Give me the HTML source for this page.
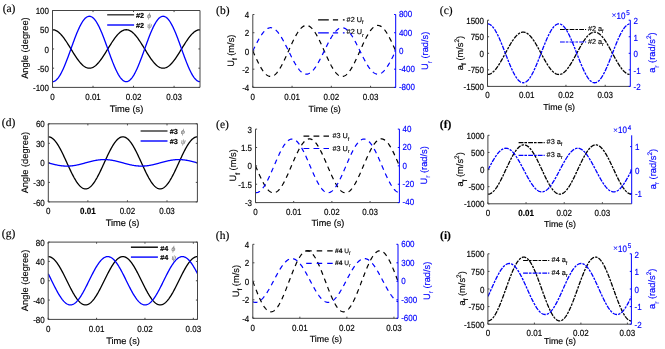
<!DOCTYPE html>
<html><head><meta charset="utf-8"><style>
html,body{margin:0;padding:0;background:#fff;}
svg{display:block;will-change:transform;}
text{font-family:"Liberation Sans", sans-serif;text-rendering:geometricPrecision;stroke:#000;stroke-width:0.15px;}
text[fill="#0000ff"]{stroke:#0000ff;}
tspan[fill="#777"]{stroke:#777;}
</style></head><body>
<svg width="665" height="349" viewBox="0 0 665 349">
<rect width="665" height="349" fill="#fff"/>
<clipPath id="c0"><rect x="52.5" y="9.5" width="147.5" height="77.9"/></clipPath>
<g clip-path="url(#c0)">
<polyline points="52.5,29.73 52.99,29.74 53.48,29.79 53.98,29.88 54.47,29.99 54.96,30.15 55.45,30.33 55.94,30.55 56.43,30.79 56.92,31.08 57.42,31.39 57.91,31.73 58.4,32.1 58.89,32.51 59.38,32.94 59.88,33.4 60.37,33.88 60.86,34.4 61.35,34.94 61.84,35.5 62.33,36.09 62.83,36.7 63.32,37.33 63.81,37.98 64.3,38.65 64.79,39.34 65.28,40.04 65.78,40.76 66.27,41.5 66.76,42.25 67.25,43.01 67.74,43.78 68.23,44.56 68.72,45.35 69.22,46.14 69.71,46.94 70.2,47.74 70.69,48.55 71.18,49.35 71.67,50.16 72.17,50.96 72.66,51.76 73.15,52.55 73.64,53.34 74.13,54.12 74.62,54.89 75.12,55.65 75.61,56.4 76.1,57.14 76.59,57.86 77.08,58.56 77.58,59.25 78.07,59.92 78.56,60.57 79.05,61.2 79.54,61.81 80.03,62.4 80.53,62.96 81.02,63.5 81.51,64.02 82,64.5 82.49,64.96 82.98,65.39 83.47,65.8 83.97,66.17 84.46,66.51 84.95,66.82 85.44,67.11 85.93,67.35 86.43,67.57 86.92,67.75 87.41,67.91 87.9,68.02 88.39,68.11 88.88,68.16 89.38,68.18 89.87,68.16 90.36,68.11 90.85,68.02 91.34,67.91 91.83,67.75 92.33,67.57 92.82,67.35 93.31,67.11 93.8,66.82 94.29,66.51 94.78,66.17 95.28,65.8 95.77,65.39 96.26,64.96 96.75,64.5 97.24,64.02 97.73,63.5 98.22,62.96 98.72,62.4 99.21,61.81 99.7,61.2 100.19,60.57 100.68,59.92 101.17,59.25 101.67,58.56 102.16,57.86 102.65,57.14 103.14,56.4 103.63,55.65 104.12,54.89 104.62,54.12 105.11,53.34 105.6,52.55 106.09,51.76 106.58,50.96 107.08,50.16 107.57,49.35 108.06,48.55 108.55,47.74 109.04,46.94 109.53,46.14 110.03,45.35 110.52,44.56 111.01,43.78 111.5,43.01 111.99,42.25 112.48,41.5 112.97,40.76 113.47,40.04 113.96,39.34 114.45,38.65 114.94,37.98 115.43,37.33 115.93,36.7 116.42,36.09 116.91,35.5 117.4,34.94 117.89,34.4 118.38,33.88 118.88,33.4 119.37,32.94 119.86,32.51 120.35,32.1 120.84,31.73 121.33,31.39 121.83,31.08 122.32,30.79 122.81,30.55 123.3,30.33 123.79,30.15 124.28,29.99 124.78,29.88 125.27,29.79 125.76,29.74 126.25,29.73 126.74,29.74 127.23,29.79 127.72,29.88 128.22,29.99 128.71,30.15 129.2,30.33 129.69,30.55 130.18,30.79 130.68,31.08 131.17,31.39 131.66,31.73 132.15,32.1 132.64,32.51 133.13,32.94 133.62,33.4 134.12,33.88 134.61,34.4 135.1,34.94 135.59,35.5 136.08,36.09 136.57,36.7 137.07,37.33 137.56,37.98 138.05,38.65 138.54,39.34 139.03,40.04 139.52,40.76 140.02,41.5 140.51,42.25 141,43.01 141.49,43.78 141.98,44.56 142.47,45.35 142.97,46.14 143.46,46.94 143.95,47.74 144.44,48.55 144.93,49.35 145.43,50.16 145.92,50.96 146.41,51.76 146.9,52.55 147.39,53.34 147.88,54.12 148.38,54.89 148.87,55.65 149.36,56.4 149.85,57.14 150.34,57.86 150.83,58.56 151.32,59.25 151.82,59.92 152.31,60.57 152.8,61.2 153.29,61.81 153.78,62.4 154.28,62.96 154.77,63.5 155.26,64.02 155.75,64.5 156.24,64.96 156.73,65.39 157.23,65.8 157.72,66.17 158.21,66.51 158.7,66.82 159.19,67.11 159.68,67.35 160.18,67.57 160.67,67.75 161.16,67.91 161.65,68.02 162.14,68.11 162.63,68.16 163.12,68.18 163.62,68.16 164.11,68.11 164.6,68.02 165.09,67.91 165.58,67.75 166.07,67.57 166.57,67.35 167.06,67.11 167.55,66.82 168.04,66.51 168.53,66.17 169.03,65.8 169.52,65.39 170.01,64.96 170.5,64.5 170.99,64.02 171.48,63.5 171.97,62.96 172.47,62.4 172.96,61.81 173.45,61.2 173.94,60.57 174.43,59.92 174.93,59.25 175.42,58.56 175.91,57.86 176.4,57.14 176.89,56.4 177.38,55.65 177.88,54.89 178.37,54.12 178.86,53.34 179.35,52.55 179.84,51.76 180.33,50.96 180.82,50.16 181.32,49.35 181.81,48.55 182.3,47.74 182.79,46.94 183.28,46.14 183.78,45.35 184.27,44.56 184.76,43.78 185.25,43.01 185.74,42.25 186.23,41.5 186.72,40.76 187.22,40.04 187.71,39.34 188.2,38.65 188.69,37.98 189.18,37.33 189.67,36.7 190.17,36.09 190.66,35.5 191.15,34.94 191.64,34.4 192.13,33.88 192.62,33.4 193.12,32.94 193.61,32.51 194.1,32.1 194.59,31.73 195.08,31.39 195.58,31.08 196.07,30.79 196.56,30.55 197.05,30.33 197.54,30.15 198.03,29.99 198.52,29.88 199.02,29.79 199.51,29.74 200,29.73" fill="none" stroke="#000" stroke-width="1.3" stroke-linejoin="round"/>
<polyline points="52.5,81.63 52.99,81.6 53.48,81.52 53.98,81.37 54.47,81.17 54.96,80.92 55.45,80.61 55.94,80.24 56.43,79.81 56.92,79.34 57.42,78.81 57.91,78.22 58.4,77.59 58.89,76.91 59.38,76.17 59.88,75.39 60.37,74.56 60.86,73.69 61.35,72.77 61.84,71.82 62.33,70.82 62.83,69.78 63.32,68.71 63.81,67.6 64.3,66.46 64.79,65.29 65.28,64.09 65.78,62.87 66.27,61.61 66.76,60.34 67.25,59.05 67.74,57.74 68.23,56.41 68.72,55.07 69.22,53.72 69.71,52.37 70.2,51 70.69,49.63 71.18,48.27 71.67,46.9 72.17,45.53 72.66,44.18 73.15,42.83 73.64,41.49 74.13,40.16 74.62,38.85 75.12,37.56 75.61,36.29 76.1,35.03 76.59,33.81 77.08,32.61 77.58,31.44 78.07,30.3 78.56,29.19 79.05,28.12 79.54,27.08 80.03,26.08 80.53,25.13 81.02,24.21 81.51,23.34 82,22.51 82.49,21.73 82.98,20.99 83.47,20.31 83.97,19.68 84.46,19.09 84.95,18.56 85.44,18.09 85.93,17.66 86.43,17.29 86.92,16.98 87.41,16.73 87.9,16.53 88.39,16.38 88.88,16.3 89.38,16.27 89.87,16.3 90.36,16.38 90.85,16.53 91.34,16.73 91.83,16.98 92.33,17.29 92.82,17.66 93.31,18.09 93.8,18.56 94.29,19.09 94.78,19.68 95.28,20.31 95.77,20.99 96.26,21.73 96.75,22.51 97.24,23.34 97.73,24.21 98.22,25.13 98.72,26.08 99.21,27.08 99.7,28.12 100.19,29.19 100.68,30.3 101.17,31.44 101.67,32.61 102.16,33.81 102.65,35.03 103.14,36.29 103.63,37.56 104.12,38.85 104.62,40.16 105.11,41.49 105.6,42.83 106.09,44.18 106.58,45.53 107.08,46.9 107.57,48.27 108.06,49.63 108.55,51 109.04,52.37 109.53,53.72 110.03,55.07 110.52,56.41 111.01,57.74 111.5,59.05 111.99,60.34 112.48,61.61 112.97,62.87 113.47,64.09 113.96,65.29 114.45,66.46 114.94,67.6 115.43,68.71 115.93,69.78 116.42,70.82 116.91,71.82 117.4,72.77 117.89,73.69 118.38,74.56 118.88,75.39 119.37,76.17 119.86,76.91 120.35,77.59 120.84,78.22 121.33,78.81 121.83,79.34 122.32,79.81 122.81,80.24 123.3,80.61 123.79,80.92 124.28,81.17 124.78,81.37 125.27,81.52 125.76,81.6 126.25,81.63 126.74,81.6 127.23,81.52 127.72,81.37 128.22,81.17 128.71,80.92 129.2,80.61 129.69,80.24 130.18,79.81 130.68,79.34 131.17,78.81 131.66,78.22 132.15,77.59 132.64,76.91 133.13,76.17 133.62,75.39 134.12,74.56 134.61,73.69 135.1,72.77 135.59,71.82 136.08,70.82 136.57,69.78 137.07,68.71 137.56,67.6 138.05,66.46 138.54,65.29 139.03,64.09 139.52,62.87 140.02,61.61 140.51,60.34 141,59.05 141.49,57.74 141.98,56.41 142.47,55.07 142.97,53.72 143.46,52.37 143.95,51 144.44,49.63 144.93,48.27 145.43,46.9 145.92,45.53 146.41,44.18 146.9,42.83 147.39,41.49 147.88,40.16 148.38,38.85 148.87,37.56 149.36,36.29 149.85,35.03 150.34,33.81 150.83,32.61 151.32,31.44 151.82,30.3 152.31,29.19 152.8,28.12 153.29,27.08 153.78,26.08 154.28,25.13 154.77,24.21 155.26,23.34 155.75,22.51 156.24,21.73 156.73,20.99 157.23,20.31 157.72,19.68 158.21,19.09 158.7,18.56 159.19,18.09 159.68,17.66 160.18,17.29 160.67,16.98 161.16,16.73 161.65,16.53 162.14,16.38 162.63,16.3 163.12,16.27 163.62,16.3 164.11,16.38 164.6,16.53 165.09,16.73 165.58,16.98 166.07,17.29 166.57,17.66 167.06,18.09 167.55,18.56 168.04,19.09 168.53,19.68 169.03,20.31 169.52,20.99 170.01,21.73 170.5,22.51 170.99,23.34 171.48,24.21 171.97,25.13 172.47,26.08 172.96,27.08 173.45,28.12 173.94,29.19 174.43,30.3 174.93,31.44 175.42,32.61 175.91,33.81 176.4,35.03 176.89,36.29 177.38,37.56 177.88,38.85 178.37,40.16 178.86,41.49 179.35,42.83 179.84,44.18 180.33,45.53 180.82,46.9 181.32,48.27 181.81,49.63 182.3,51 182.79,52.37 183.28,53.72 183.78,55.07 184.27,56.41 184.76,57.74 185.25,59.05 185.74,60.34 186.23,61.61 186.72,62.87 187.22,64.09 187.71,65.29 188.2,66.46 188.69,67.6 189.18,68.71 189.67,69.78 190.17,70.82 190.66,71.82 191.15,72.77 191.64,73.69 192.13,74.56 192.62,75.39 193.12,76.17 193.61,76.91 194.1,77.59 194.59,78.22 195.08,78.81 195.58,79.34 196.07,79.81 196.56,80.24 197.05,80.61 197.54,80.92 198.03,81.17 198.52,81.37 199.02,81.52 199.51,81.6 200,81.63" fill="none" stroke="#0000ff" stroke-width="1.3" stroke-linejoin="round"/>
</g>
<line x1="52.5" y1="10.5" x2="52.5" y2="87.4" stroke="#444" stroke-width="1.0"/>
<line x1="52.5" y1="87.4" x2="200" y2="87.4" stroke="#444" stroke-width="1.0"/>
<line x1="200" y1="10.5" x2="200" y2="87.4" stroke="#444" stroke-width="1.0"/>
<line x1="52.5" y1="10.5" x2="200" y2="10.5" stroke="#444" stroke-width="1.0"/>
<line x1="52.5" y1="10.5" x2="54.1" y2="10.5" stroke="#444" stroke-width="1.0"/>
<line x1="200" y1="10.5" x2="198.4" y2="10.5" stroke="#444" stroke-width="1.0"/>
<text transform="translate(49,14.11) scale(1,1.1)" font-size="8" text-anchor="end">100</text>
<line x1="52.5" y1="29.73" x2="54.1" y2="29.73" stroke="#444" stroke-width="1.0"/>
<line x1="200" y1="29.73" x2="198.4" y2="29.73" stroke="#444" stroke-width="1.0"/>
<text transform="translate(49,33.33) scale(1,1.1)" font-size="8" text-anchor="end">50</text>
<line x1="52.5" y1="48.95" x2="54.1" y2="48.95" stroke="#444" stroke-width="1.0"/>
<line x1="200" y1="48.95" x2="198.4" y2="48.95" stroke="#444" stroke-width="1.0"/>
<text transform="translate(49,52.56) scale(1,1.1)" font-size="8" text-anchor="end">0</text>
<line x1="52.5" y1="68.18" x2="54.1" y2="68.18" stroke="#444" stroke-width="1.0"/>
<line x1="200" y1="68.18" x2="198.4" y2="68.18" stroke="#444" stroke-width="1.0"/>
<text transform="translate(49,71.78) scale(1,1.1)" font-size="8" text-anchor="end">-50</text>
<line x1="52.5" y1="87.4" x2="54.1" y2="87.4" stroke="#444" stroke-width="1.0"/>
<line x1="200" y1="87.4" x2="198.4" y2="87.4" stroke="#444" stroke-width="1.0"/>
<text transform="translate(49,91.01) scale(1,1.1)" font-size="8" text-anchor="end">-100</text>
<line x1="52.5" y1="87.4" x2="52.5" y2="85.8" stroke="#444" stroke-width="1.0"/>
<line x1="52.5" y1="10.5" x2="52.5" y2="12.1" stroke="#444" stroke-width="1.0"/>
<text transform="translate(52.5,99.5) scale(1,1.1)" font-size="8" text-anchor="middle">0</text>
<line x1="93.02" y1="87.4" x2="93.02" y2="85.8" stroke="#444" stroke-width="1.0"/>
<line x1="93.02" y1="10.5" x2="93.02" y2="12.1" stroke="#444" stroke-width="1.0"/>
<text transform="translate(93.02,99.5) scale(1,1.1)" font-size="8" text-anchor="middle">0.01</text>
<line x1="133.54" y1="87.4" x2="133.54" y2="85.8" stroke="#444" stroke-width="1.0"/>
<line x1="133.54" y1="10.5" x2="133.54" y2="12.1" stroke="#444" stroke-width="1.0"/>
<text transform="translate(133.54,99.5) scale(1,1.1)" font-size="8" text-anchor="middle">0.02</text>
<line x1="174.07" y1="87.4" x2="174.07" y2="85.8" stroke="#444" stroke-width="1.0"/>
<line x1="174.07" y1="10.5" x2="174.07" y2="12.1" stroke="#444" stroke-width="1.0"/>
<text transform="translate(174.07,99.5) scale(1,1.1)" font-size="8" text-anchor="middle">0.03</text>
<text x="126.5" y="111.9" font-size="9.3" text-anchor="middle">Time (s)</text>
<text transform="translate(28.4,48.1) rotate(-90)" text-anchor="middle" font-size="9.3">Angle (degree)</text>
<line x1="107.2" y1="14.8" x2="134.1" y2="14.8" stroke="#333" stroke-width="1.4"/>
<text x="135.9" y="17.9" font-size="7.3"><tspan font-weight="bold">#2</tspan> <tspan dx="1.2" font-style="italic" fill="#777" style="font-family:&quot;Liberation Serif&quot;, serif">ϕ</tspan></text>
<line x1="107.2" y1="25" x2="134.1" y2="25" stroke="#0000ff" stroke-width="1.4"/>
<text x="135.9" y="27.9" font-size="7.3"><tspan font-weight="bold">#2</tspan> <tspan dx="1.2" font-style="italic" fill="#777" style="font-family:&quot;Liberation Serif&quot;, serif">ψ</tspan></text>
<text x="2.7" y="11.9" style="font-family:&quot;Liberation Serif&quot;, serif" font-size="11.5">(a)</text>
<clipPath id="c43"><rect x="252.8" y="13.5" width="142.9" height="73.9"/></clipPath>
<g clip-path="url(#c43)">
<polyline points="252.8,50.95 253.28,52.02 253.75,53.09 254.23,54.15 254.71,55.21 255.18,56.25 255.66,57.3 256.13,58.32 256.61,59.34 257.09,60.34 257.56,61.33 258.04,62.29 258.52,63.24 258.99,64.17 259.47,65.07 259.94,65.95 260.42,66.8 260.9,67.62 261.37,68.42 261.85,69.18 262.33,69.91 262.8,70.61 263.28,71.27 263.76,71.9 264.23,72.49 264.71,73.05 265.18,73.56 265.66,74.04 266.14,74.47 266.61,74.86 267.09,75.22 267.57,75.53 268.04,75.79 268.52,76.01 269,76.19 269.47,76.33 269.95,76.41 270.42,76.46 270.9,76.46 271.38,76.41 271.85,76.33 272.33,76.19 272.81,76.01 273.28,75.79 273.76,75.53 274.24,75.22 274.71,74.86 275.19,74.47 275.66,74.04 276.14,73.56 276.62,73.05 277.09,72.49 277.57,71.9 278.05,71.27 278.52,70.61 279,69.91 279.47,69.18 279.95,68.42 280.43,67.62 280.9,66.8 281.38,65.95 281.86,65.07 282.33,64.17 282.81,63.24 283.29,62.29 283.76,61.33 284.24,60.34 284.71,59.34 285.19,58.32 285.67,57.3 286.14,56.25 286.62,55.21 287.1,54.15 287.57,53.09 288.05,52.02 288.52,50.95 289,49.88 289.48,48.81 289.95,47.75 290.43,46.69 290.91,45.65 291.38,44.6 291.86,43.58 292.34,42.56 292.81,41.56 293.29,40.57 293.76,39.61 294.24,38.66 294.72,37.73 295.19,36.83 295.67,35.95 296.15,35.1 296.62,34.28 297.1,33.48 297.58,32.72 298.05,31.99 298.53,31.29 299,30.63 299.48,30 299.96,29.41 300.43,28.85 300.91,28.34 301.39,27.86 301.86,27.43 302.34,27.04 302.81,26.68 303.29,26.37 303.77,26.11 304.24,25.89 304.72,25.71 305.2,25.57 305.67,25.49 306.15,25.44 306.63,25.44 307.1,25.49 307.58,25.57 308.05,25.71 308.53,25.89 309.01,26.11 309.48,26.37 309.96,26.68 310.44,27.04 310.91,27.43 311.39,27.86 311.87,28.34 312.34,28.85 312.82,29.41 313.29,30 313.77,30.63 314.25,31.29 314.72,31.99 315.2,32.72 315.68,33.48 316.15,34.28 316.63,35.1 317.11,35.95 317.58,36.83 318.06,37.73 318.53,38.66 319.01,39.61 319.49,40.57 319.96,41.56 320.44,42.56 320.92,43.58 321.39,44.6 321.87,45.65 322.34,46.69 322.82,47.75 323.3,48.81 323.77,49.88 324.25,50.95 324.73,52.02 325.2,53.09 325.68,54.15 326.16,55.21 326.63,56.25 327.11,57.3 327.58,58.32 328.06,59.34 328.54,60.34 329.01,61.33 329.49,62.29 329.97,63.24 330.44,64.17 330.92,65.07 331.39,65.95 331.87,66.8 332.35,67.62 332.82,68.42 333.3,69.18 333.78,69.91 334.25,70.61 334.73,71.27 335.21,71.9 335.68,72.49 336.16,73.05 336.63,73.56 337.11,74.04 337.59,74.47 338.06,74.86 338.54,75.22 339.02,75.53 339.49,75.79 339.97,76.01 340.45,76.19 340.92,76.33 341.4,76.41 341.87,76.46 342.35,76.46 342.83,76.41 343.3,76.33 343.78,76.19 344.26,76.01 344.73,75.79 345.21,75.53 345.69,75.22 346.16,74.86 346.64,74.47 347.11,74.04 347.59,73.56 348.07,73.05 348.54,72.49 349.02,71.9 349.5,71.27 349.97,70.61 350.45,69.91 350.92,69.18 351.4,68.42 351.88,67.62 352.35,66.8 352.83,65.95 353.31,65.07 353.78,64.17 354.26,63.24 354.74,62.29 355.21,61.33 355.69,60.34 356.16,59.34 356.64,58.32 357.12,57.3 357.59,56.25 358.07,55.21 358.55,54.15 359.02,53.09 359.5,52.02 359.98,50.95 360.45,49.88 360.93,48.81 361.4,47.75 361.88,46.69 362.36,45.65 362.83,44.6 363.31,43.58 363.79,42.56 364.26,41.56 364.74,40.57 365.21,39.61 365.69,38.66 366.17,37.73 366.64,36.83 367.12,35.95 367.6,35.1 368.07,34.28 368.55,33.48 369.03,32.72 369.5,31.99 369.98,31.29 370.45,30.63 370.93,30 371.41,29.41 371.88,28.85 372.36,28.34 372.84,27.86 373.31,27.43 373.79,27.04 374.26,26.68 374.74,26.37 375.22,26.11 375.69,25.89 376.17,25.71 376.65,25.57 377.12,25.49 377.6,25.44 378.08,25.44 378.55,25.49 379.03,25.57 379.5,25.71 379.98,25.89 380.46,26.11 380.93,26.37 381.41,26.68 381.89,27.04 382.36,27.43 382.84,27.86 383.32,28.34 383.79,28.85 384.27,29.41 384.74,30 385.22,30.63 385.7,31.29 386.17,31.99 386.65,32.72 387.13,33.48 387.6,34.28 388.08,35.1 388.55,35.95 389.03,36.83 389.51,37.73 389.98,38.66 390.46,39.61 390.94,40.57 391.41,41.56 391.89,42.56 392.37,43.58 392.84,44.6 393.32,45.65 393.79,46.69 394.27,47.75 394.75,48.81 395.22,49.88 395.7,50.95" fill="none" stroke="#000" stroke-width="1.2" stroke-dasharray="4.8,4.2" stroke-linejoin="round"/>
<polyline points="252.8,50.95 253.28,49.98 253.75,49.01 254.23,48.04 254.71,47.07 255.18,46.12 255.66,45.17 256.13,44.23 256.61,43.31 257.09,42.4 257.56,41.5 258.04,40.62 258.52,39.76 258.99,38.91 259.47,38.09 259.94,37.29 260.42,36.52 260.9,35.77 261.37,35.04 261.85,34.35 262.33,33.68 262.8,33.05 263.28,32.44 263.76,31.87 264.23,31.33 264.71,30.83 265.18,30.36 265.66,29.92 266.14,29.53 266.61,29.17 267.09,28.85 267.57,28.57 268.04,28.33 268.52,28.12 269,27.96 269.47,27.84 269.95,27.76 270.42,27.72 270.9,27.72 271.38,27.76 271.85,27.84 272.33,27.96 272.81,28.12 273.28,28.33 273.76,28.57 274.24,28.85 274.71,29.17 275.19,29.53 275.66,29.92 276.14,30.36 276.62,30.83 277.09,31.33 277.57,31.87 278.05,32.44 278.52,33.05 279,33.68 279.47,34.35 279.95,35.04 280.43,35.77 280.9,36.52 281.38,37.29 281.86,38.09 282.33,38.91 282.81,39.76 283.29,40.62 283.76,41.5 284.24,42.4 284.71,43.31 285.19,44.23 285.67,45.17 286.14,46.12 286.62,47.07 287.1,48.04 287.57,49.01 288.05,49.98 288.52,50.95 289,51.92 289.48,52.89 289.95,53.86 290.43,54.83 290.91,55.78 291.38,56.73 291.86,57.67 292.34,58.59 292.81,59.5 293.29,60.4 293.76,61.28 294.24,62.14 294.72,62.99 295.19,63.81 295.67,64.61 296.15,65.38 296.62,66.13 297.1,66.86 297.58,67.55 298.05,68.22 298.53,68.85 299,69.46 299.48,70.03 299.96,70.57 300.43,71.07 300.91,71.54 301.39,71.98 301.86,72.37 302.34,72.73 302.81,73.05 303.29,73.33 303.77,73.57 304.24,73.78 304.72,73.94 305.2,74.06 305.67,74.14 306.15,74.18 306.63,74.18 307.1,74.14 307.58,74.06 308.05,73.94 308.53,73.78 309.01,73.57 309.48,73.33 309.96,73.05 310.44,72.73 310.91,72.37 311.39,71.98 311.87,71.54 312.34,71.07 312.82,70.57 313.29,70.03 313.77,69.46 314.25,68.85 314.72,68.22 315.2,67.55 315.68,66.86 316.15,66.13 316.63,65.38 317.11,64.61 317.58,63.81 318.06,62.99 318.53,62.14 319.01,61.28 319.49,60.4 319.96,59.5 320.44,58.59 320.92,57.67 321.39,56.73 321.87,55.78 322.34,54.83 322.82,53.86 323.3,52.89 323.77,51.92 324.25,50.95 324.73,49.98 325.2,49.01 325.68,48.04 326.16,47.07 326.63,46.12 327.11,45.17 327.58,44.23 328.06,43.31 328.54,42.4 329.01,41.5 329.49,40.62 329.97,39.76 330.44,38.91 330.92,38.09 331.39,37.29 331.87,36.52 332.35,35.77 332.82,35.04 333.3,34.35 333.78,33.68 334.25,33.05 334.73,32.44 335.21,31.87 335.68,31.33 336.16,30.83 336.63,30.36 337.11,29.92 337.59,29.53 338.06,29.17 338.54,28.85 339.02,28.57 339.49,28.33 339.97,28.12 340.45,27.96 340.92,27.84 341.4,27.76 341.87,27.72 342.35,27.72 342.83,27.76 343.3,27.84 343.78,27.96 344.26,28.12 344.73,28.33 345.21,28.57 345.69,28.85 346.16,29.17 346.64,29.53 347.11,29.92 347.59,30.36 348.07,30.83 348.54,31.33 349.02,31.87 349.5,32.44 349.97,33.05 350.45,33.68 350.92,34.35 351.4,35.04 351.88,35.77 352.35,36.52 352.83,37.29 353.31,38.09 353.78,38.91 354.26,39.76 354.74,40.62 355.21,41.5 355.69,42.4 356.16,43.31 356.64,44.23 357.12,45.17 357.59,46.12 358.07,47.07 358.55,48.04 359.02,49.01 359.5,49.98 359.98,50.95 360.45,51.92 360.93,52.89 361.4,53.86 361.88,54.83 362.36,55.78 362.83,56.73 363.31,57.67 363.79,58.59 364.26,59.5 364.74,60.4 365.21,61.28 365.69,62.14 366.17,62.99 366.64,63.81 367.12,64.61 367.6,65.38 368.07,66.13 368.55,66.86 369.03,67.55 369.5,68.22 369.98,68.85 370.45,69.46 370.93,70.03 371.41,70.57 371.88,71.07 372.36,71.54 372.84,71.98 373.31,72.37 373.79,72.73 374.26,73.05 374.74,73.33 375.22,73.57 375.69,73.78 376.17,73.94 376.65,74.06 377.12,74.14 377.6,74.18 378.08,74.18 378.55,74.14 379.03,74.06 379.5,73.94 379.98,73.78 380.46,73.57 380.93,73.33 381.41,73.05 381.89,72.73 382.36,72.37 382.84,71.98 383.32,71.54 383.79,71.07 384.27,70.57 384.74,70.03 385.22,69.46 385.7,68.85 386.17,68.22 386.65,67.55 387.13,66.86 387.6,66.13 388.08,65.38 388.55,64.61 389.03,63.81 389.51,62.99 389.98,62.14 390.46,61.28 390.94,60.4 391.41,59.5 391.89,58.59 392.37,57.67 392.84,56.73 393.32,55.78 393.79,54.83 394.27,53.86 394.75,52.89 395.22,51.92 395.7,50.95" fill="none" stroke="#0000ff" stroke-width="1.2" stroke-dasharray="4.8,4.2" stroke-linejoin="round"/>
</g>
<line x1="252.8" y1="14.5" x2="252.8" y2="87.4" stroke="#444" stroke-width="1.0"/>
<line x1="252.8" y1="87.4" x2="395.7" y2="87.4" stroke="#444" stroke-width="1.0"/>
<line x1="395.7" y1="14.5" x2="395.7" y2="87.4" stroke="#0000ff" stroke-width="1.0"/>
<line x1="252.8" y1="14.5" x2="254.4" y2="14.5" stroke="#444" stroke-width="1.0"/>
<text transform="translate(249.3,18.11) scale(1,1.1)" font-size="8" text-anchor="end">4</text>
<line x1="252.8" y1="32.73" x2="254.4" y2="32.73" stroke="#444" stroke-width="1.0"/>
<text transform="translate(249.3,36.33) scale(1,1.1)" font-size="8" text-anchor="end">2</text>
<line x1="252.8" y1="50.95" x2="254.4" y2="50.95" stroke="#444" stroke-width="1.0"/>
<text transform="translate(249.3,54.56) scale(1,1.1)" font-size="8" text-anchor="end">0</text>
<line x1="252.8" y1="69.18" x2="254.4" y2="69.18" stroke="#444" stroke-width="1.0"/>
<text transform="translate(249.3,72.78) scale(1,1.1)" font-size="8" text-anchor="end">-2</text>
<line x1="252.8" y1="87.4" x2="254.4" y2="87.4" stroke="#444" stroke-width="1.0"/>
<text transform="translate(249.3,91.01) scale(1,1.1)" font-size="8" text-anchor="end">-4</text>
<line x1="395.7" y1="14.5" x2="394.1" y2="14.5" stroke="#0000ff" stroke-width="1.0"/>
<text transform="translate(398.9,17.31) scale(1,1.1)" font-size="8" fill="#0000ff">800</text>
<line x1="395.7" y1="32.73" x2="394.1" y2="32.73" stroke="#0000ff" stroke-width="1.0"/>
<text transform="translate(398.9,35.53) scale(1,1.1)" font-size="8" fill="#0000ff">400</text>
<line x1="395.7" y1="50.95" x2="394.1" y2="50.95" stroke="#0000ff" stroke-width="1.0"/>
<text transform="translate(398.9,53.76) scale(1,1.1)" font-size="8" fill="#0000ff">0</text>
<line x1="395.7" y1="69.18" x2="394.1" y2="69.18" stroke="#0000ff" stroke-width="1.0"/>
<text transform="translate(398.9,71.98) scale(1,1.1)" font-size="8" fill="#0000ff">-400</text>
<line x1="395.7" y1="87.4" x2="394.1" y2="87.4" stroke="#0000ff" stroke-width="1.0"/>
<text transform="translate(398.9,90.21) scale(1,1.1)" font-size="8" fill="#0000ff">-800</text>
<line x1="252.8" y1="87.4" x2="252.8" y2="85.8" stroke="#444" stroke-width="1.0"/>
<text transform="translate(252.8,100) scale(1,1.1)" font-size="8" text-anchor="middle">0</text>
<line x1="292.06" y1="87.4" x2="292.06" y2="85.8" stroke="#444" stroke-width="1.0"/>
<text transform="translate(292.06,100) scale(1,1.1)" font-size="8" text-anchor="middle">0.01</text>
<line x1="331.32" y1="87.4" x2="331.32" y2="85.8" stroke="#444" stroke-width="1.0"/>
<text transform="translate(331.32,100) scale(1,1.1)" font-size="8" text-anchor="middle">0.02</text>
<line x1="370.57" y1="87.4" x2="370.57" y2="85.8" stroke="#444" stroke-width="1.0"/>
<text transform="translate(370.57,100) scale(1,1.1)" font-size="8" text-anchor="middle">0.03</text>
<text x="324.7" y="111.7" font-size="8.9" text-anchor="middle">Time (s)</text>
<text transform="translate(233.7,50.7) rotate(-90)" text-anchor="middle" font-size="9.3">U<tspan font-size="70%" dy="3.5">f</tspan><tspan dy="-3.5"> (m/s)</tspan></text>
<text transform="translate(428.2,50.8) rotate(-90)" text-anchor="middle" font-size="9.3" fill="#0000ff">U<tspan font-size="70%" dy="3.5">r</tspan><tspan dy="-3.5"> (rad/s)</tspan></text>
<line x1="318.1" y1="19.9" x2="344.7" y2="19.9" stroke="#000" stroke-width="1.2" stroke-dasharray="10.7,4.1,5.2,4.8,1.7,20"/>
<text x="346.6" y="21.5" font-size="7.3">#2 U<tspan font-size="72%" dy="2.4">f</tspan></text>
<line x1="318.1" y1="32.8" x2="344.7" y2="32.8" stroke="#0000ff" stroke-width="1.2" stroke-dasharray="10.7,4.1,5.2,4.8,1.7,20"/>
<text x="346.6" y="34.1" font-size="7.3">#2 U<tspan font-size="72%" dy="2.4">r</tspan></text>
<text x="216.1" y="13.7" style="font-family:&quot;Liberation Serif&quot;, serif" font-size="11.5">(b)</text>
<clipPath id="c87"><rect x="487.5" y="19.2" width="142.8" height="67.2"/></clipPath>
<g clip-path="url(#c87)">
<polyline points="487.5,74.48 487.98,74.47 488.45,74.41 488.93,74.32 489.4,74.19 489.88,74.02 490.36,73.82 490.83,73.58 491.31,73.31 491.78,73 492.26,72.65 492.74,72.27 493.21,71.86 493.69,71.42 494.16,70.94 494.64,70.44 495.12,69.9 495.59,69.34 496.07,68.74 496.54,68.12 497.02,67.47 497.5,66.8 497.97,66.11 498.45,65.39 498.92,64.65 499.4,63.89 499.88,63.11 500.35,62.32 500.83,61.51 501.3,60.68 501.78,59.85 502.26,59 502.73,58.14 503.21,57.27 503.68,56.39 504.16,55.51 504.64,54.63 505.11,53.74 505.59,52.86 506.06,51.97 506.54,51.09 507.02,50.21 507.49,49.33 507.97,48.46 508.44,47.6 508.92,46.75 509.4,45.92 509.87,45.09 510.35,44.28 510.82,43.49 511.3,42.71 511.78,41.95 512.25,41.21 512.73,40.49 513.2,39.8 513.68,39.13 514.16,38.48 514.63,37.86 515.11,37.26 515.58,36.7 516.06,36.16 516.54,35.66 517.01,35.18 517.49,34.74 517.96,34.33 518.44,33.95 518.92,33.6 519.39,33.29 519.87,33.02 520.34,32.78 520.82,32.58 521.3,32.41 521.77,32.28 522.25,32.19 522.72,32.13 523.2,32.12 523.68,32.13 524.15,32.19 524.63,32.28 525.1,32.41 525.58,32.58 526.06,32.78 526.53,33.02 527.01,33.29 527.48,33.6 527.96,33.95 528.44,34.33 528.91,34.74 529.39,35.18 529.86,35.66 530.34,36.16 530.82,36.7 531.29,37.26 531.77,37.86 532.24,38.48 532.72,39.13 533.2,39.8 533.67,40.49 534.15,41.21 534.62,41.95 535.1,42.71 535.58,43.49 536.05,44.28 536.53,45.09 537,45.92 537.48,46.75 537.96,47.6 538.43,48.46 538.91,49.33 539.38,50.21 539.86,51.09 540.34,51.97 540.81,52.86 541.29,53.74 541.76,54.63 542.24,55.51 542.72,56.39 543.19,57.27 543.67,58.14 544.14,59 544.62,59.85 545.1,60.68 545.57,61.51 546.05,62.32 546.52,63.11 547,63.89 547.48,64.65 547.95,65.39 548.43,66.11 548.9,66.8 549.38,67.47 549.86,68.12 550.33,68.74 550.81,69.34 551.28,69.9 551.76,70.44 552.24,70.94 552.71,71.42 553.19,71.86 553.66,72.27 554.14,72.65 554.62,73 555.09,73.31 555.57,73.58 556.04,73.82 556.52,74.02 557,74.19 557.47,74.32 557.95,74.41 558.42,74.47 558.9,74.48 559.38,74.47 559.85,74.41 560.33,74.32 560.8,74.19 561.28,74.02 561.76,73.82 562.23,73.58 562.71,73.31 563.18,73 563.66,72.65 564.14,72.27 564.61,71.86 565.09,71.42 565.56,70.94 566.04,70.44 566.52,69.9 566.99,69.34 567.47,68.74 567.94,68.12 568.42,67.47 568.9,66.8 569.37,66.11 569.85,65.39 570.32,64.65 570.8,63.89 571.28,63.11 571.75,62.32 572.23,61.51 572.7,60.68 573.18,59.85 573.66,59 574.13,58.14 574.61,57.27 575.08,56.39 575.56,55.51 576.04,54.63 576.51,53.74 576.99,52.86 577.46,51.97 577.94,51.09 578.42,50.21 578.89,49.33 579.37,48.46 579.84,47.6 580.32,46.75 580.8,45.92 581.27,45.09 581.75,44.28 582.22,43.49 582.7,42.71 583.18,41.95 583.65,41.21 584.13,40.49 584.6,39.8 585.08,39.13 585.56,38.48 586.03,37.86 586.51,37.26 586.98,36.7 587.46,36.16 587.94,35.66 588.41,35.18 588.89,34.74 589.36,34.33 589.84,33.95 590.32,33.6 590.79,33.29 591.27,33.02 591.74,32.78 592.22,32.58 592.7,32.41 593.17,32.28 593.65,32.19 594.12,32.13 594.6,32.12 595.08,32.13 595.55,32.19 596.03,32.28 596.5,32.41 596.98,32.58 597.46,32.78 597.93,33.02 598.41,33.29 598.88,33.6 599.36,33.95 599.84,34.33 600.31,34.74 600.79,35.18 601.26,35.66 601.74,36.16 602.22,36.7 602.69,37.26 603.17,37.86 603.64,38.48 604.12,39.13 604.6,39.8 605.07,40.49 605.55,41.21 606.02,41.95 606.5,42.71 606.98,43.49 607.45,44.28 607.93,45.09 608.4,45.92 608.88,46.75 609.36,47.6 609.83,48.46 610.31,49.33 610.78,50.21 611.26,51.09 611.74,51.97 612.21,52.86 612.69,53.74 613.16,54.63 613.64,55.51 614.12,56.39 614.59,57.27 615.07,58.14 615.54,59 616.02,59.85 616.5,60.68 616.97,61.51 617.45,62.32 617.92,63.11 618.4,63.89 618.88,64.65 619.35,65.39 619.83,66.11 620.3,66.8 620.78,67.47 621.26,68.12 621.73,68.74 622.21,69.34 622.68,69.9 623.16,70.44 623.64,70.94 624.11,71.42 624.59,71.86 625.06,72.27 625.54,72.65 626.02,73 626.49,73.31 626.97,73.58 627.44,73.82 627.92,74.02 628.4,74.19 628.87,74.32 629.35,74.41 629.82,74.47 630.3,74.48" fill="none" stroke="#000" stroke-width="1.3" stroke-dasharray="4.6,1.1,2.4,1.1" stroke-linejoin="round"/>
<polyline points="487.5,23.84 487.98,23.87 488.45,23.94 488.93,24.07 489.4,24.25 489.88,24.48 490.36,24.77 490.83,25.1 491.31,25.48 491.78,25.91 492.26,26.39 492.74,26.91 493.21,27.48 493.69,28.1 494.16,28.76 494.64,29.47 495.12,30.21 495.59,31 496.07,31.83 496.54,32.69 497.02,33.59 497.5,34.52 497.97,35.49 498.45,36.49 498.92,37.52 499.4,38.57 499.88,39.65 500.35,40.76 500.83,41.88 501.3,43.03 501.78,44.2 502.26,45.38 502.73,46.57 503.21,47.78 503.68,49 504.16,50.22 504.64,51.45 505.11,52.68 505.59,53.92 506.06,55.15 506.54,56.38 507.02,57.6 507.49,58.82 507.97,60.03 508.44,61.22 508.92,62.4 509.4,63.57 509.87,64.72 510.35,65.84 510.82,66.95 511.3,68.03 511.78,69.08 512.25,70.11 512.73,71.11 513.2,72.08 513.68,73.01 514.16,73.91 514.63,74.77 515.11,75.6 515.58,76.39 516.06,77.13 516.54,77.84 517.01,78.5 517.49,79.12 517.96,79.69 518.44,80.21 518.92,80.69 519.39,81.12 519.87,81.5 520.34,81.83 520.82,82.12 521.3,82.35 521.77,82.53 522.25,82.66 522.72,82.73 523.2,82.76 523.68,82.73 524.15,82.66 524.63,82.53 525.1,82.35 525.58,82.12 526.06,81.83 526.53,81.5 527.01,81.12 527.48,80.69 527.96,80.21 528.44,79.69 528.91,79.12 529.39,78.5 529.86,77.84 530.34,77.13 530.82,76.39 531.29,75.6 531.77,74.77 532.24,73.91 532.72,73.01 533.2,72.08 533.67,71.11 534.15,70.11 534.62,69.08 535.1,68.03 535.58,66.95 536.05,65.84 536.53,64.72 537,63.57 537.48,62.4 537.96,61.22 538.43,60.03 538.91,58.82 539.38,57.6 539.86,56.38 540.34,55.15 540.81,53.92 541.29,52.68 541.76,51.45 542.24,50.22 542.72,49 543.19,47.78 543.67,46.57 544.14,45.38 544.62,44.2 545.1,43.03 545.57,41.88 546.05,40.76 546.52,39.65 547,38.57 547.48,37.52 547.95,36.49 548.43,35.49 548.9,34.52 549.38,33.59 549.86,32.69 550.33,31.83 550.81,31 551.28,30.21 551.76,29.47 552.24,28.76 552.71,28.1 553.19,27.48 553.66,26.91 554.14,26.39 554.62,25.91 555.09,25.48 555.57,25.1 556.04,24.77 556.52,24.48 557,24.25 557.47,24.07 557.95,23.94 558.42,23.87 558.9,23.84 559.38,23.87 559.85,23.94 560.33,24.07 560.8,24.25 561.28,24.48 561.76,24.77 562.23,25.1 562.71,25.48 563.18,25.91 563.66,26.39 564.14,26.91 564.61,27.48 565.09,28.1 565.56,28.76 566.04,29.47 566.52,30.21 566.99,31 567.47,31.83 567.94,32.69 568.42,33.59 568.9,34.52 569.37,35.49 569.85,36.49 570.32,37.52 570.8,38.57 571.28,39.65 571.75,40.76 572.23,41.88 572.7,43.03 573.18,44.2 573.66,45.38 574.13,46.57 574.61,47.78 575.08,49 575.56,50.22 576.04,51.45 576.51,52.68 576.99,53.92 577.46,55.15 577.94,56.38 578.42,57.6 578.89,58.82 579.37,60.03 579.84,61.22 580.32,62.4 580.8,63.57 581.27,64.72 581.75,65.84 582.22,66.95 582.7,68.03 583.18,69.08 583.65,70.11 584.13,71.11 584.6,72.08 585.08,73.01 585.56,73.91 586.03,74.77 586.51,75.6 586.98,76.39 587.46,77.13 587.94,77.84 588.41,78.5 588.89,79.12 589.36,79.69 589.84,80.21 590.32,80.69 590.79,81.12 591.27,81.5 591.74,81.83 592.22,82.12 592.7,82.35 593.17,82.53 593.65,82.66 594.12,82.73 594.6,82.76 595.08,82.73 595.55,82.66 596.03,82.53 596.5,82.35 596.98,82.12 597.46,81.83 597.93,81.5 598.41,81.12 598.88,80.69 599.36,80.21 599.84,79.69 600.31,79.12 600.79,78.5 601.26,77.84 601.74,77.13 602.22,76.39 602.69,75.6 603.17,74.77 603.64,73.91 604.12,73.01 604.6,72.08 605.07,71.11 605.55,70.11 606.02,69.08 606.5,68.03 606.98,66.95 607.45,65.84 607.93,64.72 608.4,63.57 608.88,62.4 609.36,61.22 609.83,60.03 610.31,58.82 610.78,57.6 611.26,56.38 611.74,55.15 612.21,53.92 612.69,52.68 613.16,51.45 613.64,50.22 614.12,49 614.59,47.78 615.07,46.57 615.54,45.38 616.02,44.2 616.5,43.03 616.97,41.88 617.45,40.76 617.92,39.65 618.4,38.57 618.88,37.52 619.35,36.49 619.83,35.49 620.3,34.52 620.78,33.59 621.26,32.69 621.73,31.83 622.21,31 622.68,30.21 623.16,29.47 623.64,28.76 624.11,28.1 624.59,27.48 625.06,26.91 625.54,26.39 626.02,25.91 626.49,25.48 626.97,25.1 627.44,24.77 627.92,24.48 628.4,24.25 628.87,24.07 629.35,23.94 629.82,23.87 630.3,23.84" fill="none" stroke="#0000ff" stroke-width="1.3" stroke-dasharray="4.6,1.1,2.4,1.1" stroke-linejoin="round"/>
</g>
<line x1="487.5" y1="20.2" x2="487.5" y2="86.4" stroke="#444" stroke-width="1.0"/>
<line x1="487.5" y1="86.4" x2="630.3" y2="86.4" stroke="#444" stroke-width="1.0"/>
<line x1="630.3" y1="20.2" x2="630.3" y2="86.4" stroke="#0000ff" stroke-width="1.0"/>
<line x1="487.5" y1="20.2" x2="489.1" y2="20.2" stroke="#444" stroke-width="1.0"/>
<text transform="translate(484,23.81) scale(1,1.1)" font-size="8" text-anchor="end">1500</text>
<line x1="487.5" y1="36.75" x2="489.1" y2="36.75" stroke="#444" stroke-width="1.0"/>
<text transform="translate(484,40.36) scale(1,1.1)" font-size="8" text-anchor="end">750</text>
<line x1="487.5" y1="53.3" x2="489.1" y2="53.3" stroke="#444" stroke-width="1.0"/>
<text transform="translate(484,56.91) scale(1,1.1)" font-size="8" text-anchor="end">0</text>
<line x1="487.5" y1="69.85" x2="489.1" y2="69.85" stroke="#444" stroke-width="1.0"/>
<text transform="translate(484,73.46) scale(1,1.1)" font-size="8" text-anchor="end">-750</text>
<line x1="487.5" y1="86.4" x2="489.1" y2="86.4" stroke="#444" stroke-width="1.0"/>
<text transform="translate(484,90.01) scale(1,1.1)" font-size="8" text-anchor="end">-1500</text>
<line x1="630.3" y1="20.2" x2="628.7" y2="20.2" stroke="#0000ff" stroke-width="1.0"/>
<text transform="translate(633.5,24.01) scale(1,1.1)" font-size="8" fill="#0000ff">2</text>
<line x1="630.3" y1="36.75" x2="628.7" y2="36.75" stroke="#0000ff" stroke-width="1.0"/>
<text transform="translate(633.5,40.56) scale(1,1.1)" font-size="8" fill="#0000ff">1</text>
<line x1="630.3" y1="53.3" x2="628.7" y2="53.3" stroke="#0000ff" stroke-width="1.0"/>
<text transform="translate(633.5,57.11) scale(1,1.1)" font-size="8" fill="#0000ff">0</text>
<line x1="630.3" y1="69.85" x2="628.7" y2="69.85" stroke="#0000ff" stroke-width="1.0"/>
<text transform="translate(633.5,73.66) scale(1,1.1)" font-size="8" fill="#0000ff">-1</text>
<line x1="630.3" y1="86.4" x2="628.7" y2="86.4" stroke="#0000ff" stroke-width="1.0"/>
<text transform="translate(633.5,90.21) scale(1,1.1)" font-size="8" fill="#0000ff">-2</text>
<line x1="487.5" y1="86.4" x2="487.5" y2="84.8" stroke="#444" stroke-width="1.0"/>
<text transform="translate(487.5,98.4) scale(1,1.1)" font-size="8" text-anchor="middle">0</text>
<line x1="526.73" y1="86.4" x2="526.73" y2="84.8" stroke="#444" stroke-width="1.0"/>
<text transform="translate(526.73,98.4) scale(1,1.1)" font-size="8" text-anchor="middle">0.01</text>
<line x1="565.96" y1="86.4" x2="565.96" y2="84.8" stroke="#444" stroke-width="1.0"/>
<text transform="translate(565.96,98.4) scale(1,1.1)" font-size="8" text-anchor="middle">0.02</text>
<line x1="605.19" y1="86.4" x2="605.19" y2="84.8" stroke="#444" stroke-width="1.0"/>
<text transform="translate(605.19,98.4) scale(1,1.1)" font-size="8" text-anchor="middle">0.03</text>
<text x="559.1" y="109.7" font-size="8.8" text-anchor="middle">Time (s)</text>
<text transform="translate(462.5,53) rotate(-90)" text-anchor="middle" font-size="9.3">a<tspan font-size="70%" dy="3.5">f</tspan><tspan dy="-3.5"> (m/s</tspan><tspan font-size="70%" dy="-3.8">2</tspan><tspan dy="3.8">)</tspan></text>
<text transform="translate(655,52.6) rotate(-90)" text-anchor="middle" font-size="9.3" fill="#0000ff">a<tspan font-size="70%" dy="3.5">r</tspan><tspan dy="-3.5"> (rad/s</tspan><tspan font-size="70%" dy="-3.8">2</tspan><tspan dy="3.8">)</tspan></text>
<text x="611.4" y="18.4" font-size="8.5" fill="#0000ff" style="stroke-width:0">×</text>
<text transform="translate(616.6,18.7) scale(1,1.15)" font-size="8" fill="#0000ff">10</text>
<text transform="translate(626.3,15.3) scale(1,1.1)" font-size="6.2" fill="#0000ff">5</text>
<line x1="560" y1="29.5" x2="586.1" y2="29.5" stroke="#000" stroke-width="1.2" stroke-dasharray="4.8,1,2.6,1.2"/>
<text x="587.9" y="30.8" font-size="7.3">#2 a<tspan font-size="72%" dy="2.4">f</tspan></text>
<line x1="560" y1="42" x2="586.1" y2="42" stroke="#0000ff" stroke-width="1.2" stroke-dasharray="4.8,1,2.6,1.2"/>
<text x="587.9" y="43.5" font-size="7.3">#2 a<tspan font-size="72%" dy="2.4">r</tspan></text>
<text x="439.8" y="13.7" style="font-family:&quot;Liberation Serif&quot;, serif" font-size="11.5">(c)</text>
<clipPath id="c134"><rect x="48.3" y="122.8" width="149.1" height="79.1"/></clipPath>
<g clip-path="url(#c134)">
<polyline points="48.3,136.82 48.8,136.84 49.29,136.91 49.79,137.02 50.29,137.18 50.78,137.39 51.28,137.63 51.78,137.93 52.28,138.26 52.77,138.64 53.27,139.07 53.77,139.53 54.26,140.04 54.76,140.58 55.26,141.17 55.75,141.79 56.25,142.45 56.75,143.14 57.25,143.87 57.74,144.64 58.24,145.43 58.74,146.26 59.23,147.11 59.73,147.99 60.23,148.9 60.73,149.83 61.22,150.79 61.72,151.77 62.22,152.76 62.71,153.78 63.21,154.81 63.71,155.85 64.2,156.91 64.7,157.97 65.2,159.05 65.69,160.13 66.19,161.22 66.69,162.3 67.19,163.4 67.68,164.48 68.18,165.57 68.68,166.65 69.17,167.73 69.67,168.79 70.17,169.85 70.66,170.89 71.16,171.92 71.66,172.94 72.16,173.93 72.65,174.91 73.15,175.87 73.65,176.8 74.14,177.71 74.64,178.59 75.14,179.44 75.64,180.27 76.13,181.06 76.63,181.83 77.13,182.56 77.62,183.25 78.12,183.91 78.62,184.53 79.11,185.12 79.61,185.66 80.11,186.17 80.61,186.63 81.1,187.06 81.6,187.44 82.1,187.77 82.59,188.07 83.09,188.31 83.59,188.52 84.08,188.68 84.58,188.79 85.08,188.86 85.58,188.88 86.07,188.86 86.57,188.79 87.07,188.68 87.56,188.52 88.06,188.31 88.56,188.07 89.05,187.77 89.55,187.44 90.05,187.06 90.55,186.63 91.04,186.17 91.54,185.66 92.04,185.12 92.53,184.53 93.03,183.91 93.53,183.25 94.02,182.56 94.52,181.83 95.02,181.06 95.52,180.27 96.01,179.44 96.51,178.59 97.01,177.71 97.5,176.8 98,175.87 98.5,174.91 98.99,173.93 99.49,172.94 99.99,171.92 100.49,170.89 100.98,169.85 101.48,168.79 101.98,167.73 102.47,166.65 102.97,165.57 103.47,164.48 103.96,163.4 104.46,162.3 104.96,161.22 105.45,160.13 105.95,159.05 106.45,157.97 106.95,156.91 107.44,155.85 107.94,154.81 108.44,153.78 108.93,152.76 109.43,151.77 109.93,150.79 110.43,149.83 110.92,148.9 111.42,147.99 111.92,147.11 112.41,146.26 112.91,145.43 113.41,144.64 113.9,143.87 114.4,143.14 114.9,142.45 115.4,141.79 115.89,141.17 116.39,140.58 116.89,140.04 117.38,139.53 117.88,139.07 118.38,138.64 118.87,138.26 119.37,137.93 119.87,137.63 120.37,137.39 120.86,137.18 121.36,137.02 121.86,136.91 122.35,136.84 122.85,136.82 123.35,136.84 123.84,136.91 124.34,137.02 124.84,137.18 125.34,137.39 125.83,137.63 126.33,137.93 126.83,138.26 127.32,138.64 127.82,139.07 128.32,139.53 128.81,140.04 129.31,140.58 129.81,141.17 130.31,141.79 130.8,142.45 131.3,143.14 131.8,143.87 132.29,144.64 132.79,145.43 133.29,146.26 133.78,147.11 134.28,147.99 134.78,148.9 135.28,149.83 135.77,150.79 136.27,151.77 136.77,152.76 137.26,153.78 137.76,154.81 138.26,155.85 138.75,156.91 139.25,157.97 139.75,159.05 140.25,160.13 140.74,161.22 141.24,162.3 141.74,163.4 142.23,164.48 142.73,165.57 143.23,166.65 143.72,167.73 144.22,168.79 144.72,169.85 145.22,170.89 145.71,171.92 146.21,172.94 146.71,173.93 147.2,174.91 147.7,175.87 148.2,176.8 148.69,177.71 149.19,178.59 149.69,179.44 150.19,180.27 150.68,181.06 151.18,181.83 151.68,182.56 152.17,183.25 152.67,183.91 153.17,184.53 153.66,185.12 154.16,185.66 154.66,186.17 155.16,186.63 155.65,187.06 156.15,187.44 156.65,187.77 157.14,188.07 157.64,188.31 158.14,188.52 158.63,188.68 159.13,188.79 159.63,188.86 160.12,188.88 160.62,188.86 161.12,188.79 161.62,188.68 162.11,188.52 162.61,188.31 163.11,188.07 163.6,187.77 164.1,187.44 164.6,187.06 165.1,186.63 165.59,186.17 166.09,185.66 166.59,185.12 167.08,184.53 167.58,183.91 168.08,183.25 168.57,182.56 169.07,181.83 169.57,181.06 170.07,180.27 170.56,179.44 171.06,178.59 171.56,177.71 172.05,176.8 172.55,175.87 173.05,174.91 173.54,173.93 174.04,172.94 174.54,171.92 175.04,170.89 175.53,169.85 176.03,168.79 176.53,167.73 177.02,166.65 177.52,165.57 178.02,164.48 178.51,163.4 179.01,162.3 179.51,161.22 180,160.13 180.5,159.05 181,157.97 181.5,156.91 181.99,155.85 182.49,154.81 182.99,153.78 183.48,152.76 183.98,151.77 184.48,150.79 184.98,149.83 185.47,148.9 185.97,147.99 186.47,147.11 186.96,146.26 187.46,145.43 187.96,144.64 188.45,143.87 188.95,143.14 189.45,142.45 189.95,141.79 190.44,141.17 190.94,140.58 191.44,140.04 191.93,139.53 192.43,139.07 192.93,138.64 193.42,138.26 193.92,137.93 194.42,137.63 194.92,137.39 195.41,137.18 195.91,137.02 196.41,136.91 196.9,136.84 197.4,136.82" fill="none" stroke="#000" stroke-width="1.3" stroke-linejoin="round"/>
<polyline points="48.3,162.85 48.8,162.99 49.29,163.12 49.79,163.26 50.29,163.39 50.78,163.53 51.28,163.66 51.78,163.79 52.28,163.92 52.77,164.05 53.27,164.17 53.77,164.3 54.26,164.42 54.76,164.54 55.26,164.65 55.75,164.76 56.25,164.87 56.75,164.98 57.25,165.08 57.74,165.18 58.24,165.27 58.74,165.36 59.23,165.44 59.73,165.52 60.23,165.6 60.73,165.67 61.22,165.73 61.72,165.79 62.22,165.85 62.71,165.9 63.21,165.94 63.71,165.98 64.2,166.02 64.7,166.05 65.2,166.07 65.69,166.09 66.19,166.1 66.69,166.1 67.19,166.1 67.68,166.1 68.18,166.09 68.68,166.07 69.17,166.05 69.67,166.02 70.17,165.98 70.66,165.94 71.16,165.9 71.66,165.85 72.16,165.79 72.65,165.73 73.15,165.67 73.65,165.6 74.14,165.52 74.64,165.44 75.14,165.36 75.64,165.27 76.13,165.18 76.63,165.08 77.13,164.98 77.62,164.87 78.12,164.76 78.62,164.65 79.11,164.54 79.61,164.42 80.11,164.3 80.61,164.17 81.1,164.05 81.6,163.92 82.1,163.79 82.59,163.66 83.09,163.53 83.59,163.39 84.08,163.26 84.58,163.12 85.08,162.99 85.58,162.85 86.07,162.71 86.57,162.58 87.07,162.44 87.56,162.31 88.06,162.17 88.56,162.04 89.05,161.91 89.55,161.78 90.05,161.65 90.55,161.53 91.04,161.4 91.54,161.28 92.04,161.16 92.53,161.05 93.03,160.94 93.53,160.83 94.02,160.72 94.52,160.62 95.02,160.52 95.52,160.43 96.01,160.34 96.51,160.26 97.01,160.18 97.5,160.1 98,160.03 98.5,159.97 98.99,159.91 99.49,159.85 99.99,159.8 100.49,159.76 100.98,159.72 101.48,159.68 101.98,159.65 102.47,159.63 102.97,159.61 103.47,159.6 103.96,159.6 104.46,159.6 104.96,159.6 105.45,159.61 105.95,159.63 106.45,159.65 106.95,159.68 107.44,159.72 107.94,159.76 108.44,159.8 108.93,159.85 109.43,159.91 109.93,159.97 110.43,160.03 110.92,160.1 111.42,160.18 111.92,160.26 112.41,160.34 112.91,160.43 113.41,160.52 113.9,160.62 114.4,160.72 114.9,160.83 115.4,160.94 115.89,161.05 116.39,161.16 116.89,161.28 117.38,161.4 117.88,161.53 118.38,161.65 118.87,161.78 119.37,161.91 119.87,162.04 120.37,162.17 120.86,162.31 121.36,162.44 121.86,162.58 122.35,162.71 122.85,162.85 123.35,162.99 123.84,163.12 124.34,163.26 124.84,163.39 125.34,163.53 125.83,163.66 126.33,163.79 126.83,163.92 127.32,164.05 127.82,164.17 128.32,164.3 128.81,164.42 129.31,164.54 129.81,164.65 130.31,164.76 130.8,164.87 131.3,164.98 131.8,165.08 132.29,165.18 132.79,165.27 133.29,165.36 133.78,165.44 134.28,165.52 134.78,165.6 135.28,165.67 135.77,165.73 136.27,165.79 136.77,165.85 137.26,165.9 137.76,165.94 138.26,165.98 138.75,166.02 139.25,166.05 139.75,166.07 140.25,166.09 140.74,166.1 141.24,166.1 141.74,166.1 142.23,166.1 142.73,166.09 143.23,166.07 143.72,166.05 144.22,166.02 144.72,165.98 145.22,165.94 145.71,165.9 146.21,165.85 146.71,165.79 147.2,165.73 147.7,165.67 148.2,165.6 148.69,165.52 149.19,165.44 149.69,165.36 150.19,165.27 150.68,165.18 151.18,165.08 151.68,164.98 152.17,164.87 152.67,164.76 153.17,164.65 153.66,164.54 154.16,164.42 154.66,164.3 155.16,164.17 155.65,164.05 156.15,163.92 156.65,163.79 157.14,163.66 157.64,163.53 158.14,163.39 158.63,163.26 159.13,163.12 159.63,162.99 160.12,162.85 160.62,162.71 161.12,162.58 161.62,162.44 162.11,162.31 162.61,162.17 163.11,162.04 163.6,161.91 164.1,161.78 164.6,161.65 165.1,161.53 165.59,161.4 166.09,161.28 166.59,161.16 167.08,161.05 167.58,160.94 168.08,160.83 168.57,160.72 169.07,160.62 169.57,160.52 170.07,160.43 170.56,160.34 171.06,160.26 171.56,160.18 172.05,160.1 172.55,160.03 173.05,159.97 173.54,159.91 174.04,159.85 174.54,159.8 175.04,159.76 175.53,159.72 176.03,159.68 176.53,159.65 177.02,159.63 177.52,159.61 178.02,159.6 178.51,159.6 179.01,159.6 179.51,159.6 180,159.61 180.5,159.63 181,159.65 181.5,159.68 181.99,159.72 182.49,159.76 182.99,159.8 183.48,159.85 183.98,159.91 184.48,159.97 184.98,160.03 185.47,160.1 185.97,160.18 186.47,160.26 186.96,160.34 187.46,160.43 187.96,160.52 188.45,160.62 188.95,160.72 189.45,160.83 189.95,160.94 190.44,161.05 190.94,161.16 191.44,161.28 191.93,161.4 192.43,161.53 192.93,161.65 193.42,161.78 193.92,161.91 194.42,162.04 194.92,162.17 195.41,162.31 195.91,162.44 196.41,162.58 196.9,162.71 197.4,162.85" fill="none" stroke="#0000ff" stroke-width="1.3" stroke-linejoin="round"/>
</g>
<line x1="48.3" y1="123.8" x2="48.3" y2="201.9" stroke="#444" stroke-width="1.0"/>
<line x1="48.3" y1="201.9" x2="197.4" y2="201.9" stroke="#444" stroke-width="1.0"/>
<line x1="197.4" y1="123.8" x2="197.4" y2="201.9" stroke="#444" stroke-width="1.0"/>
<line x1="48.3" y1="123.8" x2="197.4" y2="123.8" stroke="#444" stroke-width="1.0"/>
<line x1="48.3" y1="123.8" x2="49.9" y2="123.8" stroke="#444" stroke-width="1.0"/>
<line x1="197.4" y1="123.8" x2="195.8" y2="123.8" stroke="#444" stroke-width="1.0"/>
<text transform="translate(44.8,127.41) scale(1,1.1)" font-size="8" text-anchor="end">60</text>
<line x1="48.3" y1="143.32" x2="49.9" y2="143.32" stroke="#444" stroke-width="1.0"/>
<line x1="197.4" y1="143.32" x2="195.8" y2="143.32" stroke="#444" stroke-width="1.0"/>
<text transform="translate(44.8,146.93) scale(1,1.1)" font-size="8" text-anchor="end">30</text>
<line x1="48.3" y1="162.85" x2="49.9" y2="162.85" stroke="#444" stroke-width="1.0"/>
<line x1="197.4" y1="162.85" x2="195.8" y2="162.85" stroke="#444" stroke-width="1.0"/>
<text transform="translate(44.8,166.46) scale(1,1.1)" font-size="8" text-anchor="end">0</text>
<line x1="48.3" y1="182.38" x2="49.9" y2="182.38" stroke="#444" stroke-width="1.0"/>
<line x1="197.4" y1="182.38" x2="195.8" y2="182.38" stroke="#444" stroke-width="1.0"/>
<text transform="translate(44.8,185.98) scale(1,1.1)" font-size="8" text-anchor="end">-30</text>
<line x1="48.3" y1="201.9" x2="49.9" y2="201.9" stroke="#444" stroke-width="1.0"/>
<line x1="197.4" y1="201.9" x2="195.8" y2="201.9" stroke="#444" stroke-width="1.0"/>
<text transform="translate(44.8,205.51) scale(1,1.1)" font-size="8" text-anchor="end">-60</text>
<line x1="48.3" y1="201.9" x2="48.3" y2="200.3" stroke="#444" stroke-width="1.0"/>
<line x1="48.3" y1="123.8" x2="48.3" y2="125.4" stroke="#444" stroke-width="1.0"/>
<text transform="translate(48.3,214.1) scale(1,1.1)" font-size="8" text-anchor="middle">0</text>
<line x1="87.87" y1="201.9" x2="87.87" y2="200.3" stroke="#444" stroke-width="1.0"/>
<line x1="87.87" y1="123.8" x2="87.87" y2="125.4" stroke="#444" stroke-width="1.0"/>
<text transform="translate(87.87,214.1) scale(1,1.1)" font-size="8" text-anchor="middle"><tspan font-weight="bold">0.01</tspan></text>
<line x1="127.44" y1="201.9" x2="127.44" y2="200.3" stroke="#444" stroke-width="1.0"/>
<line x1="127.44" y1="123.8" x2="127.44" y2="125.4" stroke="#444" stroke-width="1.0"/>
<text transform="translate(127.44,214.1) scale(1,1.1)" font-size="8" text-anchor="middle">0.02</text>
<line x1="167.01" y1="201.9" x2="167.01" y2="200.3" stroke="#444" stroke-width="1.0"/>
<line x1="167.01" y1="123.8" x2="167.01" y2="125.4" stroke="#444" stroke-width="1.0"/>
<text transform="translate(167.01,214.1) scale(1,1.1)" font-size="8" text-anchor="middle">0.03</text>
<text x="122.6" y="226.1" font-size="9.3" text-anchor="middle">Time (s)</text>
<text transform="translate(28.4,162.6) rotate(-90)" text-anchor="middle" font-size="9.3">Angle (degree)</text>
<line x1="140.6" y1="131" x2="167.5" y2="131" stroke="#333" stroke-width="1.4"/>
<text x="169.7" y="134.2" font-size="7.3"><tspan font-weight="bold">#3</tspan> <tspan dx="1.2" font-style="italic" fill="#777" style="font-family:&quot;Liberation Serif&quot;, serif">ϕ</tspan></text>
<line x1="140.6" y1="141" x2="167.5" y2="141" stroke="#0000ff" stroke-width="1.4"/>
<text x="169.7" y="143.7" font-size="7.3"><tspan font-weight="bold">#3</tspan> <tspan dx="1.2" font-style="italic" fill="#777" style="font-family:&quot;Liberation Serif&quot;, serif">ψ</tspan></text>
<text x="1.8" y="125.6" style="font-family:&quot;Liberation Serif&quot;, serif" font-size="11.5">(d)</text>
<clipPath id="c177"><rect x="255.5" y="128.1" width="143.9" height="74.5"/></clipPath>
<g clip-path="url(#c177)">
<polyline points="255.5,165.85 255.98,166.98 256.46,168.11 256.94,169.23 257.42,170.34 257.9,171.45 258.38,172.55 258.86,173.64 259.34,174.71 259.82,175.77 260.3,176.81 260.78,177.83 261.26,178.83 261.74,179.81 262.22,180.76 262.69,181.69 263.17,182.59 263.65,183.46 264.13,184.3 264.61,185.11 265.09,185.88 265.57,186.62 266.05,187.32 266.53,187.98 267.01,188.6 267.49,189.19 267.97,189.73 268.45,190.24 268.93,190.69 269.41,191.11 269.89,191.48 270.37,191.81 270.85,192.09 271.33,192.32 271.81,192.51 272.29,192.65 272.77,192.75 273.25,192.79 273.73,192.79 274.21,192.75 274.69,192.65 275.17,192.51 275.65,192.32 276.13,192.09 276.61,191.81 277.08,191.48 277.56,191.11 278.04,190.69 278.52,190.24 279,189.73 279.48,189.19 279.96,188.6 280.44,187.98 280.92,187.32 281.4,186.62 281.88,185.88 282.36,185.11 282.84,184.3 283.32,183.46 283.8,182.59 284.28,181.69 284.76,180.76 285.24,179.81 285.72,178.83 286.2,177.83 286.68,176.81 287.16,175.77 287.64,174.71 288.12,173.64 288.6,172.55 289.08,171.45 289.56,170.34 290.04,169.23 290.52,168.11 291,166.98 291.48,165.85 291.95,164.72 292.43,163.59 292.91,162.47 293.39,161.36 293.87,160.25 294.35,159.15 294.83,158.06 295.31,156.99 295.79,155.93 296.27,154.89 296.75,153.87 297.23,152.87 297.71,151.89 298.19,150.94 298.67,150.01 299.15,149.11 299.63,148.24 300.11,147.4 300.59,146.59 301.07,145.82 301.55,145.08 302.03,144.38 302.51,143.72 302.99,143.1 303.47,142.51 303.95,141.97 304.43,141.46 304.91,141.01 305.39,140.59 305.87,140.22 306.34,139.89 306.82,139.61 307.3,139.38 307.78,139.19 308.26,139.05 308.74,138.95 309.22,138.91 309.7,138.91 310.18,138.95 310.66,139.05 311.14,139.19 311.62,139.38 312.1,139.61 312.58,139.89 313.06,140.22 313.54,140.59 314.02,141.01 314.5,141.46 314.98,141.97 315.46,142.51 315.94,143.1 316.42,143.72 316.9,144.38 317.38,145.08 317.86,145.82 318.34,146.59 318.82,147.4 319.3,148.24 319.78,149.11 320.25,150.01 320.73,150.94 321.21,151.89 321.69,152.87 322.17,153.87 322.65,154.89 323.13,155.93 323.61,156.99 324.09,158.06 324.57,159.15 325.05,160.25 325.53,161.36 326.01,162.47 326.49,163.59 326.97,164.72 327.45,165.85 327.93,166.98 328.41,168.11 328.89,169.23 329.37,170.34 329.85,171.45 330.33,172.55 330.81,173.64 331.29,174.71 331.77,175.77 332.25,176.81 332.73,177.83 333.21,178.83 333.69,179.81 334.17,180.76 334.64,181.69 335.12,182.59 335.6,183.46 336.08,184.3 336.56,185.11 337.04,185.88 337.52,186.62 338,187.32 338.48,187.98 338.96,188.6 339.44,189.19 339.92,189.73 340.4,190.24 340.88,190.69 341.36,191.11 341.84,191.48 342.32,191.81 342.8,192.09 343.28,192.32 343.76,192.51 344.24,192.65 344.72,192.75 345.2,192.79 345.68,192.79 346.16,192.75 346.64,192.65 347.12,192.51 347.6,192.32 348.08,192.09 348.56,191.81 349.03,191.48 349.51,191.11 349.99,190.69 350.47,190.24 350.95,189.73 351.43,189.19 351.91,188.6 352.39,187.98 352.87,187.32 353.35,186.62 353.83,185.88 354.31,185.11 354.79,184.3 355.27,183.46 355.75,182.59 356.23,181.69 356.71,180.76 357.19,179.81 357.67,178.83 358.15,177.83 358.63,176.81 359.11,175.77 359.59,174.71 360.07,173.64 360.55,172.55 361.03,171.45 361.51,170.34 361.99,169.23 362.47,168.11 362.95,166.98 363.42,165.85 363.9,164.72 364.38,163.59 364.86,162.47 365.34,161.36 365.82,160.25 366.3,159.15 366.78,158.06 367.26,156.99 367.74,155.93 368.22,154.89 368.7,153.87 369.18,152.87 369.66,151.89 370.14,150.94 370.62,150.01 371.1,149.11 371.58,148.24 372.06,147.4 372.54,146.59 373.02,145.82 373.5,145.08 373.98,144.38 374.46,143.72 374.94,143.1 375.42,142.51 375.9,141.97 376.38,141.46 376.86,141.01 377.34,140.59 377.81,140.22 378.29,139.89 378.77,139.61 379.25,139.38 379.73,139.19 380.21,139.05 380.69,138.95 381.17,138.91 381.65,138.91 382.13,138.95 382.61,139.05 383.09,139.19 383.57,139.38 384.05,139.61 384.53,139.89 385.01,140.22 385.49,140.59 385.97,141.01 386.45,141.46 386.93,141.97 387.41,142.51 387.89,143.1 388.37,143.72 388.85,144.38 389.33,145.08 389.81,145.82 390.29,146.59 390.77,147.4 391.25,148.24 391.73,149.11 392.2,150.01 392.68,150.94 393.16,151.89 393.64,152.87 394.12,153.87 394.6,154.89 395.08,155.93 395.56,156.99 396.04,158.06 396.52,159.15 397,160.25 397.48,161.36 397.96,162.47 398.44,163.59 398.92,164.72 399.4,165.85" fill="none" stroke="#000" stroke-width="1.2" stroke-dasharray="4.8,4.2" stroke-linejoin="round"/>
<polyline points="255.5,192.64 255.98,192.68 256.46,192.66 256.94,192.6 257.42,192.49 257.9,192.34 258.38,192.14 258.86,191.89 259.34,191.59 259.82,191.26 260.3,190.87 260.78,190.45 261.26,189.98 261.74,189.46 262.22,188.91 262.69,188.32 263.17,187.68 263.65,187.01 264.13,186.3 264.61,185.56 265.09,184.78 265.57,183.96 266.05,183.12 266.53,182.24 267.01,181.34 267.49,180.41 267.97,179.45 268.45,178.47 268.93,177.47 269.41,176.45 269.89,175.41 270.37,174.35 270.85,173.27 271.33,172.19 271.81,171.09 272.29,169.98 272.77,168.87 273.25,167.75 273.73,166.63 274.21,165.51 274.69,164.38 275.17,163.26 275.65,162.15 276.13,161.04 276.61,159.94 277.08,158.85 277.56,157.77 278.04,156.7 278.52,155.66 279,154.63 279.48,153.61 279.96,152.63 280.44,151.66 280.92,150.72 281.4,149.8 281.88,148.92 282.36,148.06 282.84,147.24 283.32,146.44 283.8,145.69 284.28,144.96 284.76,144.28 285.24,143.63 285.72,143.02 286.2,142.45 286.68,141.92 287.16,141.43 287.64,140.99 288.12,140.59 288.6,140.23 289.08,139.92 289.56,139.66 290.04,139.44 290.52,139.26 291,139.14 291.48,139.06 291.95,139.02 292.43,139.04 292.91,139.1 293.39,139.21 293.87,139.36 294.35,139.56 294.83,139.81 295.31,140.11 295.79,140.44 296.27,140.83 296.75,141.25 297.23,141.72 297.71,142.24 298.19,142.79 298.67,143.38 299.15,144.02 299.63,144.69 300.11,145.4 300.59,146.14 301.07,146.92 301.55,147.74 302.03,148.58 302.51,149.46 302.99,150.36 303.47,151.29 303.95,152.25 304.43,153.23 304.91,154.23 305.39,155.25 305.87,156.29 306.34,157.35 306.82,158.43 307.3,159.51 307.78,160.61 308.26,161.72 308.74,162.83 309.22,163.95 309.7,165.07 310.18,166.19 310.66,167.32 311.14,168.44 311.62,169.55 312.1,170.66 312.58,171.76 313.06,172.85 313.54,173.93 314.02,175 314.5,176.04 314.98,177.07 315.46,178.09 315.94,179.07 316.42,180.04 316.9,180.98 317.38,181.9 317.86,182.78 318.34,183.64 318.82,184.46 319.3,185.26 319.78,186.01 320.25,186.74 320.73,187.42 321.21,188.07 321.69,188.68 322.17,189.25 322.65,189.78 323.13,190.27 323.61,190.71 324.09,191.11 324.57,191.47 325.05,191.78 325.53,192.04 326.01,192.26 326.49,192.44 326.97,192.56 327.45,192.64 327.93,192.68 328.41,192.66 328.89,192.6 329.37,192.49 329.85,192.34 330.33,192.14 330.81,191.89 331.29,191.59 331.77,191.26 332.25,190.87 332.73,190.45 333.21,189.98 333.69,189.46 334.17,188.91 334.64,188.32 335.12,187.68 335.6,187.01 336.08,186.3 336.56,185.56 337.04,184.78 337.52,183.96 338,183.12 338.48,182.24 338.96,181.34 339.44,180.41 339.92,179.45 340.4,178.47 340.88,177.47 341.36,176.45 341.84,175.41 342.32,174.35 342.8,173.27 343.28,172.19 343.76,171.09 344.24,169.98 344.72,168.87 345.2,167.75 345.68,166.63 346.16,165.51 346.64,164.38 347.12,163.26 347.6,162.15 348.08,161.04 348.56,159.94 349.03,158.85 349.51,157.77 349.99,156.7 350.47,155.66 350.95,154.63 351.43,153.61 351.91,152.63 352.39,151.66 352.87,150.72 353.35,149.8 353.83,148.92 354.31,148.06 354.79,147.24 355.27,146.44 355.75,145.69 356.23,144.96 356.71,144.28 357.19,143.63 357.67,143.02 358.15,142.45 358.63,141.92 359.11,141.43 359.59,140.99 360.07,140.59 360.55,140.23 361.03,139.92 361.51,139.66 361.99,139.44 362.47,139.26 362.95,139.14 363.42,139.06 363.9,139.02 364.38,139.04 364.86,139.1 365.34,139.21 365.82,139.36 366.3,139.56 366.78,139.81 367.26,140.11 367.74,140.44 368.22,140.83 368.7,141.25 369.18,141.72 369.66,142.24 370.14,142.79 370.62,143.38 371.1,144.02 371.58,144.69 372.06,145.4 372.54,146.14 373.02,146.92 373.5,147.74 373.98,148.58 374.46,149.46 374.94,150.36 375.42,151.29 375.9,152.25 376.38,153.23 376.86,154.23 377.34,155.25 377.81,156.29 378.29,157.35 378.77,158.43 379.25,159.51 379.73,160.61 380.21,161.72 380.69,162.83 381.17,163.95 381.65,165.07 382.13,166.19 382.61,167.32 383.09,168.44 383.57,169.55 384.05,170.66 384.53,171.76 385.01,172.85 385.49,173.93 385.97,175 386.45,176.04 386.93,177.07 387.41,178.09 387.89,179.07 388.37,180.04 388.85,180.98 389.33,181.9 389.81,182.78 390.29,183.64 390.77,184.46 391.25,185.26 391.73,186.01 392.2,186.74 392.68,187.42 393.16,188.07 393.64,188.68 394.12,189.25 394.6,189.78 395.08,190.27 395.56,190.71 396.04,191.11 396.52,191.47 397,191.78 397.48,192.04 397.96,192.26 398.44,192.44 398.92,192.56 399.4,192.64" fill="none" stroke="#0000ff" stroke-width="1.2" stroke-dasharray="4.8,4.2" stroke-linejoin="round"/>
</g>
<line x1="255.5" y1="129.1" x2="255.5" y2="202.6" stroke="#444" stroke-width="1.0"/>
<line x1="255.5" y1="202.6" x2="399.4" y2="202.6" stroke="#444" stroke-width="1.0"/>
<line x1="399.4" y1="129.1" x2="399.4" y2="202.6" stroke="#0000ff" stroke-width="1.0"/>
<line x1="255.5" y1="129.1" x2="257.1" y2="129.1" stroke="#444" stroke-width="1.0"/>
<text transform="translate(252,132.71) scale(1,1.1)" font-size="8" text-anchor="end">3</text>
<line x1="255.5" y1="147.47" x2="257.1" y2="147.47" stroke="#444" stroke-width="1.0"/>
<text transform="translate(252,151.08) scale(1,1.1)" font-size="8" text-anchor="end">1.5</text>
<line x1="255.5" y1="165.85" x2="257.1" y2="165.85" stroke="#444" stroke-width="1.0"/>
<text transform="translate(252,169.46) scale(1,1.1)" font-size="8" text-anchor="end">0</text>
<line x1="255.5" y1="184.22" x2="257.1" y2="184.22" stroke="#444" stroke-width="1.0"/>
<text transform="translate(252,187.83) scale(1,1.1)" font-size="8" text-anchor="end">-1.5</text>
<line x1="255.5" y1="202.6" x2="257.1" y2="202.6" stroke="#444" stroke-width="1.0"/>
<text transform="translate(252,206.21) scale(1,1.1)" font-size="8" text-anchor="end">-3</text>
<line x1="399.4" y1="129.1" x2="397.8" y2="129.1" stroke="#0000ff" stroke-width="1.0"/>
<text transform="translate(402.6,131.91) scale(1,1.1)" font-size="8" fill="#0000ff">40</text>
<line x1="399.4" y1="147.47" x2="397.8" y2="147.47" stroke="#0000ff" stroke-width="1.0"/>
<text transform="translate(402.6,150.28) scale(1,1.1)" font-size="8" fill="#0000ff">20</text>
<line x1="399.4" y1="165.85" x2="397.8" y2="165.85" stroke="#0000ff" stroke-width="1.0"/>
<text transform="translate(402.6,168.66) scale(1,1.1)" font-size="8" fill="#0000ff">0</text>
<line x1="399.4" y1="184.22" x2="397.8" y2="184.22" stroke="#0000ff" stroke-width="1.0"/>
<text transform="translate(402.6,187.03) scale(1,1.1)" font-size="8" fill="#0000ff">-20</text>
<line x1="399.4" y1="202.6" x2="397.8" y2="202.6" stroke="#0000ff" stroke-width="1.0"/>
<text transform="translate(402.6,205.41) scale(1,1.1)" font-size="8" fill="#0000ff">-40</text>
<line x1="255.5" y1="202.6" x2="255.5" y2="201" stroke="#444" stroke-width="1.0"/>
<text transform="translate(255.5,214.6) scale(1,1.1)" font-size="8" text-anchor="middle">0</text>
<line x1="293.69" y1="202.6" x2="293.69" y2="201" stroke="#444" stroke-width="1.0"/>
<text transform="translate(293.69,214.6) scale(1,1.1)" font-size="8" text-anchor="middle">0.01</text>
<line x1="331.88" y1="202.6" x2="331.88" y2="201" stroke="#444" stroke-width="1.0"/>
<text transform="translate(331.88,214.6) scale(1,1.1)" font-size="8" text-anchor="middle">0.02</text>
<line x1="370.07" y1="202.6" x2="370.07" y2="201" stroke="#444" stroke-width="1.0"/>
<text transform="translate(370.07,214.6) scale(1,1.1)" font-size="8" text-anchor="middle">0.03</text>
<text x="327.9" y="226.1" font-size="9.1" text-anchor="middle">Time (s)</text>
<text transform="translate(236.3,165.4) rotate(-90)" text-anchor="middle" font-size="9.3">U<tspan font-size="70%" dy="3.5">f</tspan><tspan dy="-3.5"> (m/s)</tspan></text>
<text transform="translate(426.9,165.3) rotate(-90)" text-anchor="middle" font-size="9.3" fill="#0000ff">U<tspan font-size="70%" dy="3.5">r</tspan><tspan dy="-3.5"> (rad/s)</tspan></text>
<line x1="303.5" y1="136.2" x2="329" y2="136.2" stroke="#000" stroke-width="1.2" stroke-dasharray="5.8,4.2"/>
<text x="332.4" y="138.2" font-size="7.3">#3 U<tspan font-size="72%" dy="2.4">f</tspan></text>
<line x1="303.5" y1="148.5" x2="329" y2="148.5" stroke="#0000ff" stroke-width="1.2" stroke-dasharray="5.8,4.2"/>
<text x="332.4" y="150.5" font-size="7.3">#3 U<tspan font-size="72%" dy="2.4">r</tspan></text>
<text x="216.1" y="127.7" style="font-family:&quot;Liberation Serif&quot;, serif" font-size="11.5">(e)</text>
<clipPath id="c221"><rect x="487.9" y="134.3" width="143.8" height="69.5"/></clipPath>
<g clip-path="url(#c221)">
<polyline points="487.9,194.21 488.38,194.19 488.86,194.12 489.34,194.02 489.82,193.86 490.3,193.67 490.78,193.44 491.26,193.16 491.73,192.84 492.21,192.48 492.69,192.08 493.17,191.64 493.65,191.16 494.13,190.64 494.61,190.09 495.09,189.5 495.57,188.88 496.05,188.22 496.53,187.53 497.01,186.8 497.49,186.05 497.97,185.27 498.45,184.46 498.92,183.62 499.4,182.76 499.88,181.88 500.36,180.97 500.84,180.05 501.32,179.11 501.8,178.15 502.28,177.17 502.76,176.18 503.24,175.18 503.72,174.17 504.2,173.15 504.68,172.13 505.16,171.1 505.64,170.07 506.11,169.03 506.59,168 507.07,166.97 507.55,165.95 508.03,164.93 508.51,163.92 508.99,162.92 509.47,161.93 509.95,160.95 510.43,159.99 510.91,159.05 511.39,158.13 511.87,157.22 512.35,156.34 512.83,155.48 513.3,154.64 513.78,153.83 514.26,153.05 514.74,152.3 515.22,151.57 515.7,150.88 516.18,150.22 516.66,149.6 517.14,149.01 517.62,148.46 518.1,147.94 518.58,147.46 519.06,147.02 519.54,146.62 520.02,146.26 520.49,145.94 520.97,145.66 521.45,145.43 521.93,145.24 522.41,145.08 522.89,144.98 523.37,144.91 523.85,144.89 524.33,144.91 524.81,144.98 525.29,145.08 525.77,145.24 526.25,145.43 526.73,145.66 527.21,145.94 527.68,146.26 528.16,146.62 528.64,147.02 529.12,147.46 529.6,147.94 530.08,148.46 530.56,149.01 531.04,149.6 531.52,150.22 532,150.88 532.48,151.57 532.96,152.3 533.44,153.05 533.92,153.83 534.4,154.64 534.87,155.48 535.35,156.34 535.83,157.22 536.31,158.13 536.79,159.05 537.27,159.99 537.75,160.95 538.23,161.93 538.71,162.92 539.19,163.92 539.67,164.93 540.15,165.95 540.63,166.97 541.11,168 541.59,169.03 542.06,170.07 542.54,171.1 543.02,172.13 543.5,173.15 543.98,174.17 544.46,175.18 544.94,176.18 545.42,177.17 545.9,178.15 546.38,179.11 546.86,180.05 547.34,180.97 547.82,181.88 548.3,182.76 548.78,183.62 549.25,184.46 549.73,185.27 550.21,186.05 550.69,186.8 551.17,187.53 551.65,188.22 552.13,188.88 552.61,189.5 553.09,190.09 553.57,190.64 554.05,191.16 554.53,191.64 555.01,192.08 555.49,192.48 555.97,192.84 556.44,193.16 556.92,193.44 557.4,193.67 557.88,193.86 558.36,194.02 558.84,194.12 559.32,194.19 559.8,194.21 560.28,194.19 560.76,194.12 561.24,194.02 561.72,193.86 562.2,193.67 562.68,193.44 563.16,193.16 563.63,192.84 564.11,192.48 564.59,192.08 565.07,191.64 565.55,191.16 566.03,190.64 566.51,190.09 566.99,189.5 567.47,188.88 567.95,188.22 568.43,187.53 568.91,186.8 569.39,186.05 569.87,185.27 570.35,184.46 570.82,183.62 571.3,182.76 571.78,181.88 572.26,180.97 572.74,180.05 573.22,179.11 573.7,178.15 574.18,177.17 574.66,176.18 575.14,175.18 575.62,174.17 576.1,173.15 576.58,172.13 577.06,171.1 577.54,170.07 578.01,169.03 578.49,168 578.97,166.97 579.45,165.95 579.93,164.93 580.41,163.92 580.89,162.92 581.37,161.93 581.85,160.95 582.33,159.99 582.81,159.05 583.29,158.13 583.77,157.22 584.25,156.34 584.73,155.48 585.2,154.64 585.68,153.83 586.16,153.05 586.64,152.3 587.12,151.57 587.6,150.88 588.08,150.22 588.56,149.6 589.04,149.01 589.52,148.46 590,147.94 590.48,147.46 590.96,147.02 591.44,146.62 591.92,146.26 592.39,145.94 592.87,145.66 593.35,145.43 593.83,145.24 594.31,145.08 594.79,144.98 595.27,144.91 595.75,144.89 596.23,144.91 596.71,144.98 597.19,145.08 597.67,145.24 598.15,145.43 598.63,145.66 599.11,145.94 599.58,146.26 600.06,146.62 600.54,147.02 601.02,147.46 601.5,147.94 601.98,148.46 602.46,149.01 602.94,149.6 603.42,150.22 603.9,150.88 604.38,151.57 604.86,152.3 605.34,153.05 605.82,153.83 606.3,154.64 606.77,155.48 607.25,156.34 607.73,157.22 608.21,158.13 608.69,159.05 609.17,159.99 609.65,160.95 610.13,161.93 610.61,162.92 611.09,163.92 611.57,164.93 612.05,165.95 612.53,166.97 613.01,168 613.49,169.03 613.96,170.07 614.44,171.1 614.92,172.13 615.4,173.15 615.88,174.17 616.36,175.18 616.84,176.18 617.32,177.17 617.8,178.15 618.28,179.11 618.76,180.05 619.24,180.97 619.72,181.88 620.2,182.76 620.68,183.62 621.15,184.46 621.63,185.27 622.11,186.05 622.59,186.8 623.07,187.53 623.55,188.22 624.03,188.88 624.51,189.5 624.99,190.09 625.47,190.64 625.95,191.16 626.43,191.64 626.91,192.08 627.39,192.48 627.87,192.84 628.34,193.16 628.82,193.44 629.3,193.67 629.78,193.86 630.26,194.02 630.74,194.12 631.22,194.19 631.7,194.21" fill="none" stroke="#000" stroke-width="1.3" stroke-dasharray="4.6,1.1,2.4,1.1" stroke-linejoin="round"/>
<polyline points="487.9,170.05 488.38,169.14 488.86,168.23 489.34,167.32 489.82,166.42 490.3,165.52 490.78,164.63 491.26,163.75 491.73,162.88 492.21,162.03 492.69,161.18 493.17,160.36 493.65,159.55 494.13,158.76 494.61,157.99 495.09,157.24 495.57,156.51 496.05,155.8 496.53,155.12 497.01,154.47 497.49,153.85 497.97,153.25 498.45,152.68 498.92,152.15 499.4,151.64 499.88,151.17 500.36,150.73 500.84,150.32 501.32,149.95 501.8,149.61 502.28,149.31 502.76,149.05 503.24,148.82 503.72,148.63 504.2,148.48 504.68,148.36 505.16,148.29 505.64,148.25 506.11,148.25 506.59,148.29 507.07,148.36 507.55,148.48 508.03,148.63 508.51,148.82 508.99,149.05 509.47,149.31 509.95,149.61 510.43,149.95 510.91,150.32 511.39,150.73 511.87,151.17 512.35,151.64 512.83,152.15 513.3,152.68 513.78,153.25 514.26,153.85 514.74,154.47 515.22,155.12 515.7,155.8 516.18,156.51 516.66,157.24 517.14,157.99 517.62,158.76 518.1,159.55 518.58,160.36 519.06,161.18 519.54,162.03 520.02,162.88 520.49,163.75 520.97,164.63 521.45,165.52 521.93,166.42 522.41,167.32 522.89,168.23 523.37,169.14 523.85,170.05 524.33,170.97 524.81,171.88 525.29,172.79 525.77,173.69 526.25,174.59 526.73,175.48 527.21,176.36 527.68,177.23 528.16,178.08 528.64,178.92 529.12,179.75 529.6,180.56 530.08,181.35 530.56,182.12 531.04,182.87 531.52,183.6 532,184.3 532.48,184.98 532.96,185.64 533.44,186.26 533.92,186.86 534.4,187.43 534.87,187.96 535.35,188.47 535.83,188.94 536.31,189.38 536.79,189.79 537.27,190.16 537.75,190.5 538.23,190.8 538.71,191.06 539.19,191.29 539.67,191.48 540.15,191.63 540.63,191.74 541.11,191.82 541.59,191.86 542.06,191.86 542.54,191.82 543.02,191.74 543.5,191.63 543.98,191.48 544.46,191.29 544.94,191.06 545.42,190.8 545.9,190.5 546.38,190.16 546.86,189.79 547.34,189.38 547.82,188.94 548.3,188.47 548.78,187.96 549.25,187.43 549.73,186.86 550.21,186.26 550.69,185.64 551.17,184.98 551.65,184.3 552.13,183.6 552.61,182.87 553.09,182.12 553.57,181.35 554.05,180.56 554.53,179.75 555.01,178.92 555.49,178.08 555.97,177.23 556.44,176.36 556.92,175.48 557.4,174.59 557.88,173.69 558.36,172.79 558.84,171.88 559.32,170.97 559.8,170.05 560.28,169.14 560.76,168.23 561.24,167.32 561.72,166.42 562.2,165.52 562.68,164.63 563.16,163.75 563.63,162.88 564.11,162.03 564.59,161.18 565.07,160.36 565.55,159.55 566.03,158.76 566.51,157.99 566.99,157.24 567.47,156.51 567.95,155.8 568.43,155.12 568.91,154.47 569.39,153.85 569.87,153.25 570.35,152.68 570.82,152.15 571.3,151.64 571.78,151.17 572.26,150.73 572.74,150.32 573.22,149.95 573.7,149.61 574.18,149.31 574.66,149.05 575.14,148.82 575.62,148.63 576.1,148.48 576.58,148.36 577.06,148.29 577.54,148.25 578.01,148.25 578.49,148.29 578.97,148.36 579.45,148.48 579.93,148.63 580.41,148.82 580.89,149.05 581.37,149.31 581.85,149.61 582.33,149.95 582.81,150.32 583.29,150.73 583.77,151.17 584.25,151.64 584.73,152.15 585.2,152.68 585.68,153.25 586.16,153.85 586.64,154.47 587.12,155.12 587.6,155.8 588.08,156.51 588.56,157.24 589.04,157.99 589.52,158.76 590,159.55 590.48,160.36 590.96,161.18 591.44,162.03 591.92,162.88 592.39,163.75 592.87,164.63 593.35,165.52 593.83,166.42 594.31,167.32 594.79,168.23 595.27,169.14 595.75,170.05 596.23,170.97 596.71,171.88 597.19,172.79 597.67,173.69 598.15,174.59 598.63,175.48 599.11,176.36 599.58,177.23 600.06,178.08 600.54,178.92 601.02,179.75 601.5,180.56 601.98,181.35 602.46,182.12 602.94,182.87 603.42,183.6 603.9,184.3 604.38,184.98 604.86,185.64 605.34,186.26 605.82,186.86 606.3,187.43 606.77,187.96 607.25,188.47 607.73,188.94 608.21,189.38 608.69,189.79 609.17,190.16 609.65,190.5 610.13,190.8 610.61,191.06 611.09,191.29 611.57,191.48 612.05,191.63 612.53,191.74 613.01,191.82 613.49,191.86 613.96,191.86 614.44,191.82 614.92,191.74 615.4,191.63 615.88,191.48 616.36,191.29 616.84,191.06 617.32,190.8 617.8,190.5 618.28,190.16 618.76,189.79 619.24,189.38 619.72,188.94 620.2,188.47 620.68,187.96 621.15,187.43 621.63,186.86 622.11,186.26 622.59,185.64 623.07,184.98 623.55,184.3 624.03,183.6 624.51,182.87 624.99,182.12 625.47,181.35 625.95,180.56 626.43,179.75 626.91,178.92 627.39,178.08 627.87,177.23 628.34,176.36 628.82,175.48 629.3,174.59 629.78,173.69 630.26,172.79 630.74,171.88 631.22,170.97 631.7,170.05" fill="none" stroke="#0000ff" stroke-width="1.3" stroke-dasharray="4.6,1.1,2.4,1.1" stroke-linejoin="round"/>
</g>
<line x1="487.9" y1="135.3" x2="487.9" y2="203.8" stroke="#444" stroke-width="1.0"/>
<line x1="487.9" y1="203.8" x2="631.7" y2="203.8" stroke="#444" stroke-width="1.0"/>
<line x1="631.7" y1="135.3" x2="631.7" y2="203.8" stroke="#0000ff" stroke-width="1.0"/>
<line x1="487.9" y1="135.3" x2="489.5" y2="135.3" stroke="#444" stroke-width="1.0"/>
<text transform="translate(484.4,138.91) scale(1,1.1)" font-size="8" text-anchor="end">1000</text>
<line x1="487.9" y1="152.43" x2="489.5" y2="152.43" stroke="#444" stroke-width="1.0"/>
<text transform="translate(484.4,156.03) scale(1,1.1)" font-size="8" text-anchor="end">500</text>
<line x1="487.9" y1="169.55" x2="489.5" y2="169.55" stroke="#444" stroke-width="1.0"/>
<text transform="translate(484.4,173.16) scale(1,1.1)" font-size="8" text-anchor="end">0</text>
<line x1="487.9" y1="186.68" x2="489.5" y2="186.68" stroke="#444" stroke-width="1.0"/>
<text transform="translate(484.4,190.28) scale(1,1.1)" font-size="8" text-anchor="end">-500</text>
<line x1="487.9" y1="203.8" x2="489.5" y2="203.8" stroke="#444" stroke-width="1.0"/>
<text transform="translate(484.4,207.41) scale(1,1.1)" font-size="8" text-anchor="end">-1000</text>
<line x1="631.7" y1="146.6" x2="630.1" y2="146.6" stroke="#0000ff" stroke-width="1.0"/>
<text transform="translate(634.9,150.41) scale(1,1.1)" font-size="8" fill="#0000ff">1</text>
<line x1="631.7" y1="170.05" x2="630.1" y2="170.05" stroke="#0000ff" stroke-width="1.0"/>
<text transform="translate(634.9,173.86) scale(1,1.1)" font-size="8" fill="#0000ff">0</text>
<line x1="631.7" y1="193.51" x2="630.1" y2="193.51" stroke="#0000ff" stroke-width="1.0"/>
<text transform="translate(634.9,197.31) scale(1,1.1)" font-size="8" fill="#0000ff">-1</text>
<line x1="487.9" y1="203.8" x2="487.9" y2="202.2" stroke="#444" stroke-width="1.0"/>
<text transform="translate(487.9,216) scale(1,1.1)" font-size="8" text-anchor="middle">0</text>
<line x1="526.06" y1="203.8" x2="526.06" y2="202.2" stroke="#444" stroke-width="1.0"/>
<text transform="translate(526.06,216) scale(1,1.1)" font-size="8" text-anchor="middle"><tspan font-weight="bold">0.01</tspan></text>
<line x1="564.23" y1="203.8" x2="564.23" y2="202.2" stroke="#444" stroke-width="1.0"/>
<text transform="translate(564.23,216) scale(1,1.1)" font-size="8" text-anchor="middle">0.02</text>
<line x1="602.39" y1="203.8" x2="602.39" y2="202.2" stroke="#444" stroke-width="1.0"/>
<text transform="translate(602.39,216) scale(1,1.1)" font-size="8" text-anchor="middle">0.03</text>
<text x="559.9" y="226.9" font-size="8.8" text-anchor="middle">Time (s)</text>
<text transform="translate(463,169.4) rotate(-90)" text-anchor="middle" font-size="9.3">a<tspan font-size="70%" dy="3.5">f</tspan><tspan dy="-3.5"> (m/s</tspan><tspan font-size="70%" dy="-3.8">2</tspan><tspan dy="3.8">)</tspan></text>
<text transform="translate(655.5,169.1) rotate(-90)" text-anchor="middle" font-size="9.3" fill="#0000ff">a<tspan font-size="70%" dy="3.5">r</tspan><tspan dy="-3.5"> (rad/s</tspan><tspan font-size="70%" dy="-3.8">2</tspan><tspan dy="3.8">)</tspan></text>
<text x="612.9" y="132.9" font-size="8.5" fill="#0000ff" style="stroke-width:0">×</text>
<text transform="translate(618.1,133.2) scale(1,1.15)" font-size="8" fill="#0000ff">10</text>
<text transform="translate(627.8,129.8) scale(1,1.1)" font-size="6.2" fill="#0000ff">4</text>
<line x1="518.6" y1="142.7" x2="544.7" y2="142.7" stroke="#000" stroke-width="1.2" stroke-dasharray="4.8,1,2.6,1.2"/>
<text x="546.6" y="144" font-size="7.3">#3 a<tspan font-size="72%" dy="2.4">f</tspan></text>
<line x1="518.6" y1="155.3" x2="544.7" y2="155.3" stroke="#0000ff" stroke-width="1.2" stroke-dasharray="4.8,1,2.6,1.2"/>
<text x="546.6" y="156.7" font-size="7.3">#3 a<tspan font-size="72%" dy="2.4">r</tspan></text>
<text x="439.8" y="127.6" style="font-family:&quot;Liberation Serif&quot;, serif" font-size="11.5" font-weight="bold">(f)</text>
<clipPath id="c264"><rect x="48.2" y="241.1" width="149.3" height="78.3"/></clipPath>
<g clip-path="url(#c264)">
<polyline points="48.2,256.59 48.7,256.61 49.2,256.68 49.69,256.78 50.19,256.93 50.69,257.12 51.19,257.35 51.68,257.62 52.18,257.94 52.68,258.29 53.18,258.68 53.67,259.11 54.17,259.58 54.67,260.09 55.17,260.63 55.67,261.21 56.16,261.82 56.66,262.46 57.16,263.14 57.66,263.85 58.15,264.59 58.65,265.35 59.15,266.15 59.65,266.96 60.14,267.81 60.64,268.67 61.14,269.56 61.64,270.46 62.13,271.39 62.63,272.33 63.13,273.29 63.63,274.25 64.13,275.23 64.62,276.22 65.12,277.22 65.62,278.22 66.12,279.23 66.61,280.24 67.11,281.26 67.61,282.27 68.11,283.28 68.6,284.28 69.1,285.28 69.6,286.27 70.1,287.25 70.6,288.21 71.09,289.17 71.59,290.11 72.09,291.04 72.59,291.94 73.08,292.83 73.58,293.69 74.08,294.54 74.58,295.35 75.07,296.15 75.57,296.91 76.07,297.65 76.57,298.36 77.06,299.04 77.56,299.68 78.06,300.29 78.56,300.87 79.06,301.41 79.55,301.92 80.05,302.39 80.55,302.82 81.05,303.21 81.54,303.56 82.04,303.88 82.54,304.15 83.04,304.38 83.53,304.57 84.03,304.72 84.53,304.82 85.03,304.89 85.53,304.91 86.02,304.89 86.52,304.82 87.02,304.72 87.52,304.57 88.01,304.38 88.51,304.15 89.01,303.88 89.51,303.56 90,303.21 90.5,302.82 91,302.39 91.5,301.92 91.99,301.41 92.49,300.87 92.99,300.29 93.49,299.68 93.99,299.04 94.48,298.36 94.98,297.65 95.48,296.91 95.98,296.15 96.47,295.35 96.97,294.54 97.47,293.69 97.97,292.83 98.46,291.94 98.96,291.04 99.46,290.11 99.96,289.17 100.46,288.21 100.95,287.25 101.45,286.27 101.95,285.28 102.45,284.28 102.94,283.28 103.44,282.27 103.94,281.26 104.44,280.24 104.93,279.23 105.43,278.22 105.93,277.22 106.43,276.22 106.92,275.23 107.42,274.25 107.92,273.29 108.42,272.33 108.92,271.39 109.41,270.46 109.91,269.56 110.41,268.67 110.91,267.81 111.4,266.96 111.9,266.15 112.4,265.35 112.9,264.59 113.39,263.85 113.89,263.14 114.39,262.46 114.89,261.82 115.39,261.21 115.88,260.63 116.38,260.09 116.88,259.58 117.38,259.11 117.87,258.68 118.37,258.29 118.87,257.94 119.37,257.62 119.86,257.35 120.36,257.12 120.86,256.93 121.36,256.78 121.85,256.68 122.35,256.61 122.85,256.59 123.35,256.61 123.85,256.68 124.34,256.78 124.84,256.93 125.34,257.12 125.84,257.35 126.33,257.62 126.83,257.94 127.33,258.29 127.83,258.68 128.32,259.11 128.82,259.58 129.32,260.09 129.82,260.63 130.31,261.21 130.81,261.82 131.31,262.46 131.81,263.14 132.31,263.85 132.8,264.59 133.3,265.35 133.8,266.15 134.3,266.96 134.79,267.81 135.29,268.67 135.79,269.56 136.29,270.46 136.78,271.39 137.28,272.33 137.78,273.29 138.28,274.25 138.78,275.23 139.27,276.22 139.77,277.22 140.27,278.22 140.77,279.23 141.26,280.24 141.76,281.26 142.26,282.27 142.76,283.28 143.25,284.28 143.75,285.28 144.25,286.27 144.75,287.25 145.25,288.21 145.74,289.17 146.24,290.11 146.74,291.04 147.24,291.94 147.73,292.83 148.23,293.69 148.73,294.54 149.23,295.35 149.72,296.15 150.22,296.91 150.72,297.65 151.22,298.36 151.71,299.04 152.21,299.68 152.71,300.29 153.21,300.87 153.71,301.41 154.2,301.92 154.7,302.39 155.2,302.82 155.7,303.21 156.19,303.56 156.69,303.88 157.19,304.15 157.69,304.38 158.18,304.57 158.68,304.72 159.18,304.82 159.68,304.89 160.18,304.91 160.67,304.89 161.17,304.82 161.67,304.72 162.17,304.57 162.66,304.38 163.16,304.15 163.66,303.88 164.16,303.56 164.65,303.21 165.15,302.82 165.65,302.39 166.15,301.92 166.64,301.41 167.14,300.87 167.64,300.29 168.14,299.68 168.64,299.04 169.13,298.36 169.63,297.65 170.13,296.91 170.63,296.15 171.12,295.35 171.62,294.54 172.12,293.69 172.62,292.83 173.11,291.94 173.61,291.04 174.11,290.11 174.61,289.17 175.11,288.21 175.6,287.25 176.1,286.27 176.6,285.28 177.1,284.28 177.59,283.28 178.09,282.27 178.59,281.26 179.09,280.24 179.58,279.23 180.08,278.22 180.58,277.22 181.08,276.22 181.57,275.23 182.07,274.25 182.57,273.29 183.07,272.33 183.57,271.39 184.06,270.46 184.56,269.56 185.06,268.67 185.56,267.81 186.05,266.96 186.55,266.15 187.05,265.35 187.55,264.59 188.04,263.85 188.54,263.14 189.04,262.46 189.54,261.82 190.04,261.21 190.53,260.63 191.03,260.09 191.53,259.58 192.03,259.11 192.52,258.68 193.02,258.29 193.52,257.94 194.02,257.62 194.51,257.35 195.01,257.12 195.51,256.93 196.01,256.78 196.5,256.68 197,256.61 197.5,256.59" fill="none" stroke="#000" stroke-width="1.3" stroke-linejoin="round"/>
<polyline points="48.2,273.7 48.7,274.67 49.2,275.66 49.69,276.65 50.19,277.65 50.69,278.66 51.19,279.67 51.68,280.68 52.18,281.69 52.68,282.7 53.18,283.71 53.67,284.71 54.17,285.7 54.67,286.69 55.17,287.66 55.67,288.63 56.16,289.57 56.66,290.51 57.16,291.43 57.66,292.32 58.15,293.2 58.65,294.06 59.15,294.89 59.65,295.7 60.14,296.48 60.64,297.23 61.14,297.96 61.64,298.65 62.13,299.32 62.63,299.95 63.13,300.54 63.63,301.11 64.13,301.63 64.62,302.12 65.12,302.58 65.62,302.99 66.12,303.37 66.61,303.7 67.11,304 67.61,304.25 68.11,304.46 68.6,304.64 69.1,304.77 69.6,304.85 70.1,304.9 70.6,304.9 71.09,304.86 71.59,304.78 72.09,304.66 72.59,304.49 73.08,304.28 73.58,304.04 74.08,303.75 74.58,303.42 75.07,303.05 75.57,302.64 76.07,302.19 76.57,301.71 77.06,301.18 77.56,300.63 78.06,300.04 78.56,299.41 79.06,298.75 79.55,298.06 80.05,297.34 80.55,296.59 81.05,295.81 81.54,295.01 82.04,294.18 82.54,293.33 83.04,292.45 83.53,291.56 84.03,290.64 84.53,289.71 85.03,288.76 85.53,287.8 86.02,286.83 86.52,285.84 87.02,284.85 87.52,283.85 88.01,282.84 88.51,281.83 89.01,280.82 89.51,279.81 90,278.8 90.5,277.79 91,276.79 91.5,275.8 91.99,274.81 92.49,273.84 92.99,272.87 93.49,271.93 93.99,270.99 94.48,270.07 94.98,269.18 95.48,268.3 95.98,267.44 96.47,266.61 96.97,265.8 97.47,265.02 97.97,264.27 98.46,263.54 98.96,262.85 99.46,262.18 99.96,261.55 100.46,260.96 100.95,260.39 101.45,259.87 101.95,259.38 102.45,258.92 102.94,258.51 103.44,258.13 103.94,257.8 104.44,257.5 104.93,257.25 105.43,257.04 105.93,256.86 106.43,256.73 106.92,256.65 107.42,256.6 107.92,256.6 108.42,256.64 108.92,256.72 109.41,256.84 109.91,257.01 110.41,257.22 110.91,257.46 111.4,257.75 111.9,258.08 112.4,258.45 112.9,258.86 113.39,259.31 113.89,259.79 114.39,260.32 114.89,260.87 115.39,261.46 115.88,262.09 116.38,262.75 116.88,263.44 117.38,264.16 117.87,264.91 118.37,265.69 118.87,266.49 119.37,267.32 119.86,268.17 120.36,269.05 120.86,269.94 121.36,270.86 121.85,271.79 122.35,272.74 122.85,273.7 123.35,274.67 123.85,275.66 124.34,276.65 124.84,277.65 125.34,278.66 125.84,279.67 126.33,280.68 126.83,281.69 127.33,282.7 127.83,283.71 128.32,284.71 128.82,285.7 129.32,286.69 129.82,287.66 130.31,288.63 130.81,289.57 131.31,290.51 131.81,291.43 132.31,292.32 132.8,293.2 133.3,294.06 133.8,294.89 134.3,295.7 134.79,296.48 135.29,297.23 135.79,297.96 136.29,298.65 136.78,299.32 137.28,299.95 137.78,300.54 138.28,301.11 138.78,301.63 139.27,302.12 139.77,302.58 140.27,302.99 140.77,303.37 141.26,303.7 141.76,304 142.26,304.25 142.76,304.46 143.25,304.64 143.75,304.77 144.25,304.85 144.75,304.9 145.25,304.9 145.74,304.86 146.24,304.78 146.74,304.66 147.24,304.49 147.73,304.28 148.23,304.04 148.73,303.75 149.23,303.42 149.72,303.05 150.22,302.64 150.72,302.19 151.22,301.71 151.71,301.18 152.21,300.63 152.71,300.04 153.21,299.41 153.71,298.75 154.2,298.06 154.7,297.34 155.2,296.59 155.7,295.81 156.19,295.01 156.69,294.18 157.19,293.33 157.69,292.45 158.18,291.56 158.68,290.64 159.18,289.71 159.68,288.76 160.18,287.8 160.67,286.83 161.17,285.84 161.67,284.85 162.17,283.85 162.66,282.84 163.16,281.83 163.66,280.82 164.16,279.81 164.65,278.8 165.15,277.79 165.65,276.79 166.15,275.8 166.64,274.81 167.14,273.84 167.64,272.87 168.14,271.93 168.64,270.99 169.13,270.07 169.63,269.18 170.13,268.3 170.63,267.44 171.12,266.61 171.62,265.8 172.12,265.02 172.62,264.27 173.11,263.54 173.61,262.85 174.11,262.18 174.61,261.55 175.11,260.96 175.6,260.39 176.1,259.87 176.6,259.38 177.1,258.92 177.59,258.51 178.09,258.13 178.59,257.8 179.09,257.5 179.58,257.25 180.08,257.04 180.58,256.86 181.08,256.73 181.57,256.65 182.07,256.6 182.57,256.6 183.07,256.64 183.57,256.72 184.06,256.84 184.56,257.01 185.06,257.22 185.56,257.46 186.05,257.75 186.55,258.08 187.05,258.45 187.55,258.86 188.04,259.31 188.54,259.79 189.04,260.32 189.54,260.87 190.04,261.46 190.53,262.09 191.03,262.75 191.53,263.44 192.03,264.16 192.52,264.91 193.02,265.69 193.52,266.49 194.02,267.32 194.51,268.17 195.01,269.05 195.51,269.94 196.01,270.86 196.5,271.79 197,272.74 197.5,273.7" fill="none" stroke="#0000ff" stroke-width="1.3" stroke-linejoin="round"/>
</g>
<line x1="48.2" y1="242.1" x2="48.2" y2="319.4" stroke="#444" stroke-width="1.0"/>
<line x1="48.2" y1="319.4" x2="197.5" y2="319.4" stroke="#444" stroke-width="1.0"/>
<line x1="197.5" y1="242.1" x2="197.5" y2="319.4" stroke="#444" stroke-width="1.0"/>
<line x1="48.2" y1="242.1" x2="197.5" y2="242.1" stroke="#444" stroke-width="1.0"/>
<line x1="48.2" y1="242.1" x2="49.8" y2="242.1" stroke="#444" stroke-width="1.0"/>
<line x1="197.5" y1="242.1" x2="195.9" y2="242.1" stroke="#444" stroke-width="1.0"/>
<text transform="translate(44.7,245.71) scale(1,1.1)" font-size="8" text-anchor="end">80</text>
<line x1="48.2" y1="261.43" x2="49.8" y2="261.43" stroke="#444" stroke-width="1.0"/>
<line x1="197.5" y1="261.43" x2="195.9" y2="261.43" stroke="#444" stroke-width="1.0"/>
<text transform="translate(44.7,265.03) scale(1,1.1)" font-size="8" text-anchor="end">40</text>
<line x1="48.2" y1="280.75" x2="49.8" y2="280.75" stroke="#444" stroke-width="1.0"/>
<line x1="197.5" y1="280.75" x2="195.9" y2="280.75" stroke="#444" stroke-width="1.0"/>
<text transform="translate(44.7,284.36) scale(1,1.1)" font-size="8" text-anchor="end">0</text>
<line x1="48.2" y1="300.07" x2="49.8" y2="300.07" stroke="#444" stroke-width="1.0"/>
<line x1="197.5" y1="300.07" x2="195.9" y2="300.07" stroke="#444" stroke-width="1.0"/>
<text transform="translate(44.7,303.68) scale(1,1.1)" font-size="8" text-anchor="end">-40</text>
<line x1="48.2" y1="319.4" x2="49.8" y2="319.4" stroke="#444" stroke-width="1.0"/>
<line x1="197.5" y1="319.4" x2="195.9" y2="319.4" stroke="#444" stroke-width="1.0"/>
<text transform="translate(44.7,323.01) scale(1,1.1)" font-size="8" text-anchor="end">-80</text>
<line x1="48.2" y1="319.4" x2="48.2" y2="317.8" stroke="#444" stroke-width="1.0"/>
<line x1="48.2" y1="242.1" x2="48.2" y2="243.7" stroke="#444" stroke-width="1.0"/>
<text transform="translate(48.2,332.4) scale(1,1.1)" font-size="8" text-anchor="middle">0</text>
<line x1="96.58" y1="319.4" x2="96.58" y2="317.8" stroke="#444" stroke-width="1.0"/>
<line x1="96.58" y1="242.1" x2="96.58" y2="243.7" stroke="#444" stroke-width="1.0"/>
<text transform="translate(96.58,332.4) scale(1,1.1)" font-size="8" text-anchor="middle">0.01</text>
<line x1="144.96" y1="319.4" x2="144.96" y2="317.8" stroke="#444" stroke-width="1.0"/>
<line x1="144.96" y1="242.1" x2="144.96" y2="243.7" stroke="#444" stroke-width="1.0"/>
<text transform="translate(144.96,332.4) scale(1,1.1)" font-size="8" text-anchor="middle">0.02</text>
<line x1="193.34" y1="319.4" x2="193.34" y2="317.8" stroke="#444" stroke-width="1.0"/>
<line x1="193.34" y1="242.1" x2="193.34" y2="243.7" stroke="#444" stroke-width="1.0"/>
<text transform="translate(193.34,332.4) scale(1,1.1)" font-size="8" text-anchor="middle">0.03</text>
<text x="123.1" y="343.9" font-size="9.3" text-anchor="middle">Time (s)</text>
<text transform="translate(28.4,280.4) rotate(-90)" text-anchor="middle" font-size="9.3">Angle (degree)</text>
<line x1="130.9" y1="247.2" x2="157.9" y2="247.2" stroke="#000" stroke-width="1.4"/>
<text x="160.2" y="250.6" font-size="7.3"><tspan font-weight="bold">#4</tspan> <tspan dx="1.2" font-style="italic" fill="#777" style="font-family:&quot;Liberation Serif&quot;, serif">ϕ</tspan></text>
<line x1="130.9" y1="257.1" x2="157.9" y2="257.1" stroke="#0000ff" stroke-width="1.4"/>
<text x="160.2" y="260.1" font-size="7.3"><tspan font-weight="bold">#4</tspan> <tspan dx="1.2" font-style="italic" fill="#777" style="font-family:&quot;Liberation Serif&quot;, serif">ψ</tspan></text>
<text x="1.8" y="236.9" style="font-family:&quot;Liberation Serif&quot;, serif" font-size="11.5">(g)</text>
<clipPath id="c307"><rect x="252.8" y="243.3" width="145.2" height="75"/></clipPath>
<g clip-path="url(#c307)">
<polyline points="252.8,281.3 253.28,282.58 253.77,283.85 254.25,285.13 254.74,286.39 255.22,287.65 255.7,288.89 256.19,290.12 256.67,291.34 257.16,292.54 257.64,293.72 258.12,294.87 258.61,296.01 259.09,297.11 259.58,298.19 260.06,299.24 260.54,300.26 261.03,301.25 261.51,302.2 262,303.11 262.48,303.98 262.96,304.82 263.45,305.61 263.93,306.37 264.42,307.07 264.9,307.74 265.38,308.35 265.87,308.92 266.35,309.44 266.84,309.91 267.32,310.33 267.8,310.7 268.29,311.02 268.77,311.28 269.26,311.5 269.74,311.66 270.22,311.76 270.71,311.82 271.19,311.82 271.68,311.76 272.16,311.66 272.64,311.5 273.13,311.28 273.61,311.02 274.1,310.7 274.58,310.33 275.06,309.91 275.55,309.44 276.03,308.92 276.52,308.35 277,307.74 277.48,307.07 277.97,306.37 278.45,305.61 278.94,304.82 279.42,303.98 279.9,303.11 280.39,302.2 280.87,301.25 281.36,300.26 281.84,299.24 282.32,298.19 282.81,297.11 283.29,296.01 283.78,294.87 284.26,293.72 284.74,292.54 285.23,291.34 285.71,290.12 286.2,288.89 286.68,287.65 287.16,286.39 287.65,285.13 288.13,283.85 288.62,282.58 289.1,281.3 289.58,280.02 290.07,278.75 290.55,277.47 291.04,276.21 291.52,274.95 292,273.71 292.49,272.48 292.97,271.26 293.46,270.06 293.94,268.88 294.42,267.73 294.91,266.59 295.39,265.49 295.88,264.41 296.36,263.36 296.84,262.34 297.33,261.35 297.81,260.4 298.3,259.49 298.78,258.62 299.26,257.78 299.75,256.99 300.23,256.23 300.72,255.53 301.2,254.86 301.68,254.25 302.17,253.68 302.65,253.16 303.14,252.69 303.62,252.27 304.1,251.9 304.59,251.58 305.07,251.32 305.56,251.1 306.04,250.94 306.52,250.84 307.01,250.78 307.49,250.78 307.98,250.84 308.46,250.94 308.94,251.1 309.43,251.32 309.91,251.58 310.4,251.9 310.88,252.27 311.36,252.69 311.85,253.16 312.33,253.68 312.82,254.25 313.3,254.86 313.78,255.53 314.27,256.23 314.75,256.99 315.24,257.78 315.72,258.62 316.2,259.49 316.69,260.4 317.17,261.35 317.66,262.34 318.14,263.36 318.62,264.41 319.11,265.49 319.59,266.59 320.08,267.73 320.56,268.88 321.04,270.06 321.53,271.26 322.01,272.48 322.5,273.71 322.98,274.95 323.46,276.21 323.95,277.47 324.43,278.75 324.92,280.02 325.4,281.3 325.88,282.58 326.37,283.85 326.85,285.13 327.34,286.39 327.82,287.65 328.3,288.89 328.79,290.12 329.27,291.34 329.76,292.54 330.24,293.72 330.72,294.87 331.21,296.01 331.69,297.11 332.18,298.19 332.66,299.24 333.14,300.26 333.63,301.25 334.11,302.2 334.6,303.11 335.08,303.98 335.56,304.82 336.05,305.61 336.53,306.37 337.02,307.07 337.5,307.74 337.98,308.35 338.47,308.92 338.95,309.44 339.44,309.91 339.92,310.33 340.4,310.7 340.89,311.02 341.37,311.28 341.86,311.5 342.34,311.66 342.82,311.76 343.31,311.82 343.79,311.82 344.28,311.76 344.76,311.66 345.24,311.5 345.73,311.28 346.21,311.02 346.7,310.7 347.18,310.33 347.66,309.91 348.15,309.44 348.63,308.92 349.12,308.35 349.6,307.74 350.08,307.07 350.57,306.37 351.05,305.61 351.54,304.82 352.02,303.98 352.5,303.11 352.99,302.2 353.47,301.25 353.96,300.26 354.44,299.24 354.92,298.19 355.41,297.11 355.89,296.01 356.38,294.87 356.86,293.72 357.34,292.54 357.83,291.34 358.31,290.12 358.8,288.89 359.28,287.65 359.76,286.39 360.25,285.13 360.73,283.85 361.22,282.58 361.7,281.3 362.18,280.02 362.67,278.75 363.15,277.47 363.64,276.21 364.12,274.95 364.6,273.71 365.09,272.48 365.57,271.26 366.06,270.06 366.54,268.88 367.02,267.73 367.51,266.59 367.99,265.49 368.48,264.41 368.96,263.36 369.44,262.34 369.93,261.35 370.41,260.4 370.9,259.49 371.38,258.62 371.86,257.78 372.35,256.99 372.83,256.23 373.32,255.53 373.8,254.86 374.28,254.25 374.77,253.68 375.25,253.16 375.74,252.69 376.22,252.27 376.7,251.9 377.19,251.58 377.67,251.32 378.16,251.1 378.64,250.94 379.12,250.84 379.61,250.78 380.09,250.78 380.58,250.84 381.06,250.94 381.54,251.1 382.03,251.32 382.51,251.58 383,251.9 383.48,252.27 383.96,252.69 384.45,253.16 384.93,253.68 385.42,254.25 385.9,254.86 386.38,255.53 386.87,256.23 387.35,256.99 387.84,257.78 388.32,258.62 388.8,259.49 389.29,260.4 389.77,261.35 390.26,262.34 390.74,263.36 391.22,264.41 391.71,265.49 392.19,266.59 392.68,267.73 393.16,268.88 393.64,270.06 394.13,271.26 394.61,272.48 395.1,273.71 395.58,274.95 396.06,276.21 396.55,277.47 397.03,278.75 397.52,280.02 398,281.3" fill="none" stroke="#000" stroke-width="1.2" stroke-dasharray="4.8,4.2" stroke-linejoin="round"/>
<polyline points="252.8,301.74 253.28,301.94 253.77,302.11 254.25,302.24 254.74,302.33 255.22,302.38 255.7,302.39 256.19,302.36 256.67,302.3 257.16,302.2 257.64,302.06 258.12,301.88 258.61,301.66 259.09,301.41 259.58,301.12 260.06,300.8 260.54,300.43 261.03,300.04 261.51,299.61 262,299.14 262.48,298.65 262.96,298.12 263.45,297.56 263.93,296.97 264.42,296.35 264.9,295.71 265.38,295.03 265.87,294.33 266.35,293.61 266.84,292.87 267.32,292.1 267.8,291.31 268.29,290.5 268.77,289.68 269.26,288.84 269.74,287.99 270.22,287.12 270.71,286.24 271.19,285.35 271.68,284.45 272.16,283.54 272.64,282.63 273.13,281.72 273.61,280.8 274.1,279.89 274.58,278.97 275.06,278.06 275.55,277.15 276.03,276.25 276.52,275.35 277,274.46 277.48,273.59 277.97,272.72 278.45,271.87 278.94,271.04 279.42,270.22 279.9,269.42 280.39,268.64 280.87,267.88 281.36,267.14 281.84,266.43 282.32,265.74 282.81,265.07 283.29,264.44 283.78,263.83 284.26,263.25 284.74,262.7 285.23,262.18 285.71,261.69 286.2,261.24 286.68,260.82 287.16,260.44 287.65,260.09 288.13,259.77 288.62,259.5 289.1,259.26 289.58,259.05 290.07,258.89 290.55,258.76 291.04,258.67 291.52,258.62 292,258.61 292.49,258.63 292.97,258.7 293.46,258.8 293.94,258.94 294.42,259.12 294.91,259.33 295.39,259.59 295.88,259.88 296.36,260.2 296.84,260.56 297.33,260.96 297.81,261.39 298.3,261.85 298.78,262.35 299.26,262.88 299.75,263.44 300.23,264.03 300.72,264.65 301.2,265.29 301.68,265.96 302.17,266.66 302.65,267.39 303.14,268.13 303.62,268.9 304.1,269.69 304.59,270.49 305.07,271.32 305.56,272.16 306.04,273.01 306.52,273.88 307.01,274.76 307.49,275.65 307.98,276.55 308.46,277.45 308.94,278.36 309.43,279.28 309.91,280.19 310.4,281.11 310.88,282.03 311.36,282.94 311.85,283.85 312.33,284.75 312.82,285.65 313.3,286.53 313.78,287.41 314.27,288.27 314.75,289.12 315.24,289.96 315.72,290.78 316.2,291.58 316.69,292.36 317.17,293.12 317.66,293.86 318.14,294.57 318.62,295.26 319.11,295.92 319.59,296.56 320.08,297.17 320.56,297.75 321.04,298.3 321.53,298.82 322.01,299.3 322.5,299.76 322.98,300.17 323.46,300.56 323.95,300.91 324.43,301.22 324.92,301.5 325.4,301.74 325.88,301.94 326.37,302.11 326.85,302.24 327.34,302.33 327.82,302.38 328.3,302.39 328.79,302.36 329.27,302.3 329.76,302.2 330.24,302.06 330.72,301.88 331.21,301.66 331.69,301.41 332.18,301.12 332.66,300.8 333.14,300.43 333.63,300.04 334.11,299.61 334.6,299.14 335.08,298.65 335.56,298.12 336.05,297.56 336.53,296.97 337.02,296.35 337.5,295.71 337.98,295.03 338.47,294.33 338.95,293.61 339.44,292.87 339.92,292.1 340.4,291.31 340.89,290.5 341.37,289.68 341.86,288.84 342.34,287.99 342.82,287.12 343.31,286.24 343.79,285.35 344.28,284.45 344.76,283.54 345.24,282.63 345.73,281.72 346.21,280.8 346.7,279.89 347.18,278.97 347.66,278.06 348.15,277.15 348.63,276.25 349.12,275.35 349.6,274.46 350.08,273.59 350.57,272.72 351.05,271.87 351.54,271.04 352.02,270.22 352.5,269.42 352.99,268.64 353.47,267.88 353.96,267.14 354.44,266.43 354.92,265.74 355.41,265.07 355.89,264.44 356.38,263.83 356.86,263.25 357.34,262.7 357.83,262.18 358.31,261.69 358.8,261.24 359.28,260.82 359.76,260.44 360.25,260.09 360.73,259.77 361.22,259.5 361.7,259.26 362.18,259.05 362.67,258.89 363.15,258.76 363.64,258.67 364.12,258.62 364.6,258.61 365.09,258.63 365.57,258.7 366.06,258.8 366.54,258.94 367.02,259.12 367.51,259.33 367.99,259.59 368.48,259.88 368.96,260.2 369.44,260.56 369.93,260.96 370.41,261.39 370.9,261.85 371.38,262.35 371.86,262.88 372.35,263.44 372.83,264.03 373.32,264.65 373.8,265.29 374.28,265.96 374.77,266.66 375.25,267.39 375.74,268.13 376.22,268.9 376.7,269.69 377.19,270.49 377.67,271.32 378.16,272.16 378.64,273.01 379.12,273.88 379.61,274.76 380.09,275.65 380.58,276.55 381.06,277.45 381.54,278.36 382.03,279.28 382.51,280.19 383,281.11 383.48,282.03 383.96,282.94 384.45,283.85 384.93,284.75 385.42,285.65 385.9,286.53 386.38,287.41 386.87,288.27 387.35,289.12 387.84,289.96 388.32,290.78 388.8,291.58 389.29,292.36 389.77,293.12 390.26,293.86 390.74,294.57 391.22,295.26 391.71,295.92 392.19,296.56 392.68,297.17 393.16,297.75 393.64,298.3 394.13,298.82 394.61,299.3 395.1,299.76 395.58,300.17 396.06,300.56 396.55,300.91 397.03,301.22 397.52,301.5 398,301.74" fill="none" stroke="#0000ff" stroke-width="1.2" stroke-dasharray="4.8,4.2" stroke-linejoin="round"/>
</g>
<line x1="252.8" y1="244.3" x2="252.8" y2="318.3" stroke="#444" stroke-width="1.0"/>
<line x1="252.8" y1="318.3" x2="398" y2="318.3" stroke="#444" stroke-width="1.0"/>
<line x1="398" y1="244.3" x2="398" y2="318.3" stroke="#0000ff" stroke-width="1.0"/>
<line x1="252.8" y1="244.3" x2="254.4" y2="244.3" stroke="#444" stroke-width="1.0"/>
<text transform="translate(249.3,247.91) scale(1,1.1)" font-size="8" text-anchor="end">4</text>
<line x1="252.8" y1="262.8" x2="254.4" y2="262.8" stroke="#444" stroke-width="1.0"/>
<text transform="translate(249.3,266.41) scale(1,1.1)" font-size="8" text-anchor="end">2</text>
<line x1="252.8" y1="281.3" x2="254.4" y2="281.3" stroke="#444" stroke-width="1.0"/>
<text transform="translate(249.3,284.91) scale(1,1.1)" font-size="8" text-anchor="end">0</text>
<line x1="252.8" y1="299.8" x2="254.4" y2="299.8" stroke="#444" stroke-width="1.0"/>
<text transform="translate(249.3,303.41) scale(1,1.1)" font-size="8" text-anchor="end">-2</text>
<line x1="252.8" y1="318.3" x2="254.4" y2="318.3" stroke="#444" stroke-width="1.0"/>
<text transform="translate(249.3,321.91) scale(1,1.1)" font-size="8" text-anchor="end">-4</text>
<line x1="398" y1="244.3" x2="396.4" y2="244.3" stroke="#0000ff" stroke-width="1.0"/>
<text transform="translate(401.2,247.11) scale(1,1.1)" font-size="8" fill="#0000ff">600</text>
<line x1="398" y1="262.8" x2="396.4" y2="262.8" stroke="#0000ff" stroke-width="1.0"/>
<text transform="translate(401.2,265.61) scale(1,1.1)" font-size="8" fill="#0000ff">300</text>
<line x1="398" y1="281.3" x2="396.4" y2="281.3" stroke="#0000ff" stroke-width="1.0"/>
<text transform="translate(401.2,284.11) scale(1,1.1)" font-size="8" fill="#0000ff">0</text>
<line x1="398" y1="299.8" x2="396.4" y2="299.8" stroke="#0000ff" stroke-width="1.0"/>
<text transform="translate(401.2,302.61) scale(1,1.1)" font-size="8" fill="#0000ff">-300</text>
<line x1="398" y1="318.3" x2="396.4" y2="318.3" stroke="#0000ff" stroke-width="1.0"/>
<text transform="translate(401.2,321.11) scale(1,1.1)" font-size="8" fill="#0000ff">-600</text>
<line x1="252.8" y1="318.3" x2="252.8" y2="316.7" stroke="#444" stroke-width="1.0"/>
<text transform="translate(252.8,330.6) scale(1,1.1)" font-size="8" text-anchor="middle">0</text>
<line x1="299.85" y1="318.3" x2="299.85" y2="316.7" stroke="#444" stroke-width="1.0"/>
<text transform="translate(299.85,330.6) scale(1,1.1)" font-size="8" text-anchor="middle">0.01</text>
<line x1="346.9" y1="318.3" x2="346.9" y2="316.7" stroke="#444" stroke-width="1.0"/>
<text transform="translate(346.9,330.6) scale(1,1.1)" font-size="8" text-anchor="middle">0.02</text>
<line x1="393.95" y1="318.3" x2="393.95" y2="316.7" stroke="#444" stroke-width="1.0"/>
<text transform="translate(393.95,330.6) scale(1,1.1)" font-size="8" text-anchor="middle">0.03</text>
<text x="325.9" y="341.9" font-size="8.9" text-anchor="middle">Time (s)</text>
<text transform="translate(238.6,281.1) rotate(-90)" text-anchor="middle" font-size="9.3">U<tspan font-size="70%" dy="3.5">f</tspan><tspan dy="-3.5"> (m/s)</tspan></text>
<text transform="translate(429.5,280.8) rotate(-90)" text-anchor="middle" font-size="9.3" fill="#0000ff">U<tspan font-size="70%" dy="3.5">r</tspan><tspan dy="-3.5"> (rad/s)</tspan></text>
<line x1="306.2" y1="250.8" x2="332.9" y2="250.8" stroke="#000" stroke-width="1.2" stroke-dasharray="5.5,5"/>
<text x="335.1" y="252.6" font-size="6.6"><tspan font-weight="bold">#4</tspan> U<tspan font-size="72%" dy="2.4">f</tspan></text>
<line x1="306.2" y1="263.4" x2="332.9" y2="263.4" stroke="#0000ff" stroke-width="1.2" stroke-dasharray="5.5,5"/>
<text x="335.1" y="265" font-size="6.6"><tspan font-weight="bold">#4</tspan> U<tspan font-size="72%" dy="2.4">r</tspan></text>
<text x="215.8" y="239" style="font-family:&quot;Liberation Serif&quot;, serif" font-size="11.5">(h)</text>
<clipPath id="c351"><rect x="487.9" y="252.8" width="143.5" height="71.4"/></clipPath>
<g clip-path="url(#c351)">
<polyline points="487.9,320.91 488.38,320.89 488.86,320.8 489.33,320.66 489.81,320.47 490.29,320.22 490.77,319.91 491.25,319.55 491.73,319.14 492.2,318.67 492.68,318.16 493.16,317.59 493.64,316.97 494.12,316.3 494.6,315.58 495.07,314.82 495.55,314.01 496.03,313.16 496.51,312.26 496.99,311.33 497.47,310.36 497.94,309.34 498.42,308.3 498.9,307.21 499.38,306.1 499.86,304.96 500.34,303.79 500.81,302.59 501.29,301.37 501.77,300.12 502.25,298.86 502.73,297.58 503.21,296.29 503.69,294.98 504.16,293.66 504.64,292.34 505.12,291 505.6,289.67 506.08,288.33 506.55,287 507.03,285.66 507.51,284.34 507.99,283.02 508.47,281.71 508.95,280.42 509.42,279.14 509.9,277.88 510.38,276.63 510.86,275.41 511.34,274.21 511.82,273.04 512.29,271.9 512.77,270.79 513.25,269.7 513.73,268.66 514.21,267.64 514.69,266.67 515.16,265.74 515.64,264.84 516.12,263.99 516.6,263.18 517.08,262.42 517.56,261.7 518.03,261.03 518.51,260.41 518.99,259.84 519.47,259.33 519.95,258.86 520.43,258.45 520.9,258.09 521.38,257.78 521.86,257.53 522.34,257.34 522.82,257.2 523.3,257.11 523.77,257.09 524.25,257.11 524.73,257.2 525.21,257.34 525.69,257.53 526.17,257.78 526.64,258.09 527.12,258.45 527.6,258.86 528.08,259.33 528.56,259.84 529.04,260.41 529.51,261.03 529.99,261.7 530.47,262.42 530.95,263.18 531.43,263.99 531.91,264.84 532.38,265.74 532.86,266.67 533.34,267.64 533.82,268.66 534.3,269.7 534.78,270.79 535.25,271.9 535.73,273.04 536.21,274.21 536.69,275.41 537.17,276.63 537.65,277.88 538.12,279.14 538.6,280.42 539.08,281.71 539.56,283.02 540.04,284.34 540.52,285.66 541,287 541.47,288.33 541.95,289.67 542.43,291 542.91,292.34 543.39,293.66 543.87,294.98 544.34,296.29 544.82,297.58 545.3,298.86 545.78,300.12 546.26,301.37 546.74,302.59 547.21,303.79 547.69,304.96 548.17,306.1 548.65,307.21 549.13,308.3 549.61,309.34 550.08,310.36 550.56,311.33 551.04,312.26 551.52,313.16 552,314.01 552.48,314.82 552.95,315.58 553.43,316.3 553.91,316.97 554.39,317.59 554.87,318.16 555.35,318.67 555.82,319.14 556.3,319.55 556.78,319.91 557.26,320.22 557.74,320.47 558.21,320.66 558.69,320.8 559.17,320.89 559.65,320.91 560.13,320.89 560.61,320.8 561.09,320.66 561.56,320.47 562.04,320.22 562.52,319.91 563,319.55 563.48,319.14 563.95,318.67 564.43,318.16 564.91,317.59 565.39,316.97 565.87,316.3 566.35,315.58 566.82,314.82 567.3,314.01 567.78,313.16 568.26,312.26 568.74,311.33 569.22,310.36 569.69,309.34 570.17,308.3 570.65,307.21 571.13,306.1 571.61,304.96 572.09,303.79 572.56,302.59 573.04,301.37 573.52,300.12 574,298.86 574.48,297.58 574.96,296.29 575.43,294.98 575.91,293.66 576.39,292.34 576.87,291 577.35,289.67 577.83,288.33 578.3,287 578.78,285.66 579.26,284.34 579.74,283.02 580.22,281.71 580.7,280.42 581.17,279.14 581.65,277.88 582.13,276.63 582.61,275.41 583.09,274.21 583.57,273.04 584.04,271.9 584.52,270.79 585,269.7 585.48,268.66 585.96,267.64 586.44,266.67 586.91,265.74 587.39,264.84 587.87,263.99 588.35,263.18 588.83,262.42 589.31,261.7 589.78,261.03 590.26,260.41 590.74,259.84 591.22,259.33 591.7,258.86 592.18,258.45 592.65,258.09 593.13,257.78 593.61,257.53 594.09,257.34 594.57,257.2 595.05,257.11 595.52,257.09 596,257.11 596.48,257.2 596.96,257.34 597.44,257.53 597.92,257.78 598.39,258.09 598.87,258.45 599.35,258.86 599.83,259.33 600.31,259.84 600.79,260.41 601.26,261.03 601.74,261.7 602.22,262.42 602.7,263.18 603.18,263.99 603.66,264.84 604.13,265.74 604.61,266.67 605.09,267.64 605.57,268.66 606.05,269.7 606.53,270.79 607,271.9 607.48,273.04 607.96,274.21 608.44,275.41 608.92,276.63 609.4,277.88 609.88,279.14 610.35,280.42 610.83,281.71 611.31,283.02 611.79,284.34 612.27,285.66 612.75,287 613.22,288.33 613.7,289.67 614.18,291 614.66,292.34 615.14,293.66 615.62,294.98 616.09,296.29 616.57,297.58 617.05,298.86 617.53,300.12 618.01,301.37 618.49,302.59 618.96,303.79 619.44,304.96 619.92,306.1 620.4,307.21 620.88,308.3 621.36,309.34 621.83,310.36 622.31,311.33 622.79,312.26 623.27,313.16 623.75,314.01 624.23,314.82 624.7,315.58 625.18,316.3 625.66,316.97 626.14,317.59 626.62,318.16 627.1,318.67 627.57,319.14 628.05,319.55 628.53,319.91 629.01,320.22 629.49,320.47 629.96,320.66 630.44,320.8 630.92,320.89 631.4,320.91" fill="none" stroke="#000" stroke-width="1.3" stroke-dasharray="4.6,1.1,2.4,1.1" stroke-linejoin="round"/>
<polyline points="487.9,296.6 488.38,295.57 488.86,294.53 489.33,293.49 489.81,292.43 490.29,291.37 490.77,290.3 491.25,289.23 491.73,288.16 492.2,287.1 492.68,286.03 493.16,284.97 493.64,283.92 494.12,282.88 494.6,281.85 495.07,280.83 495.55,279.82 496.03,278.83 496.51,277.86 496.99,276.91 497.47,275.98 497.94,275.07 498.42,274.19 498.9,273.33 499.38,272.5 499.86,271.7 500.34,270.93 500.81,270.19 501.29,269.49 501.77,268.81 502.25,268.18 502.73,267.58 503.21,267.02 503.69,266.49 504.16,266.01 504.64,265.57 505.12,265.16 505.6,264.8 506.08,264.48 506.55,264.21 507.03,263.98 507.51,263.79 507.99,263.65 508.47,263.55 508.95,263.49 509.42,263.48 509.9,263.52 510.38,263.6 510.86,263.72 511.34,263.89 511.82,264.1 512.29,264.36 512.77,264.66 513.25,265 513.73,265.38 514.21,265.81 514.69,266.28 515.16,266.78 515.64,267.33 516.12,267.91 516.6,268.53 517.08,269.19 517.56,269.88 518.03,270.6 518.51,271.36 518.99,272.15 519.47,272.97 519.95,273.81 520.43,274.68 520.9,275.58 521.38,276.5 521.86,277.44 522.34,278.41 522.82,279.39 523.3,280.39 523.77,281.4 524.25,282.43 524.73,283.47 525.21,284.51 525.69,285.57 526.17,286.63 526.64,287.7 527.12,288.77 527.6,289.84 528.08,290.9 528.56,291.97 529.04,293.03 529.51,294.08 529.99,295.12 530.47,296.15 530.95,297.17 531.43,298.18 531.91,299.17 532.38,300.14 532.86,301.09 533.34,302.02 533.82,302.93 534.3,303.81 534.78,304.67 535.25,305.5 535.73,306.3 536.21,307.07 536.69,307.81 537.17,308.51 537.65,309.19 538.12,309.82 538.6,310.42 539.08,310.98 539.56,311.51 540.04,311.99 540.52,312.43 541,312.84 541.47,313.2 541.95,313.52 542.43,313.79 542.91,314.02 543.39,314.21 543.87,314.35 544.34,314.45 544.82,314.51 545.3,314.52 545.78,314.48 546.26,314.4 546.74,314.28 547.21,314.11 547.69,313.9 548.17,313.64 548.65,313.34 549.13,313 549.61,312.62 550.08,312.19 550.56,311.72 551.04,311.22 551.52,310.67 552,310.09 552.48,309.47 552.95,308.81 553.43,308.12 553.91,307.4 554.39,306.64 554.87,305.85 555.35,305.03 555.82,304.19 556.3,303.32 556.78,302.42 557.26,301.5 557.74,300.56 558.21,299.59 558.69,298.61 559.17,297.61 559.65,296.6 560.13,295.57 560.61,294.53 561.09,293.49 561.56,292.43 562.04,291.37 562.52,290.3 563,289.23 563.48,288.16 563.95,287.1 564.43,286.03 564.91,284.97 565.39,283.92 565.87,282.88 566.35,281.85 566.82,280.83 567.3,279.82 567.78,278.83 568.26,277.86 568.74,276.91 569.22,275.98 569.69,275.07 570.17,274.19 570.65,273.33 571.13,272.5 571.61,271.7 572.09,270.93 572.56,270.19 573.04,269.49 573.52,268.81 574,268.18 574.48,267.58 574.96,267.02 575.43,266.49 575.91,266.01 576.39,265.57 576.87,265.16 577.35,264.8 577.83,264.48 578.3,264.21 578.78,263.98 579.26,263.79 579.74,263.65 580.22,263.55 580.7,263.49 581.17,263.48 581.65,263.52 582.13,263.6 582.61,263.72 583.09,263.89 583.57,264.1 584.04,264.36 584.52,264.66 585,265 585.48,265.38 585.96,265.81 586.44,266.28 586.91,266.78 587.39,267.33 587.87,267.91 588.35,268.53 588.83,269.19 589.31,269.88 589.78,270.6 590.26,271.36 590.74,272.15 591.22,272.97 591.7,273.81 592.18,274.68 592.65,275.58 593.13,276.5 593.61,277.44 594.09,278.41 594.57,279.39 595.05,280.39 595.52,281.4 596,282.43 596.48,283.47 596.96,284.51 597.44,285.57 597.92,286.63 598.39,287.7 598.87,288.77 599.35,289.84 599.83,290.9 600.31,291.97 600.79,293.03 601.26,294.08 601.74,295.12 602.22,296.15 602.7,297.17 603.18,298.18 603.66,299.17 604.13,300.14 604.61,301.09 605.09,302.02 605.57,302.93 606.05,303.81 606.53,304.67 607,305.5 607.48,306.3 607.96,307.07 608.44,307.81 608.92,308.51 609.4,309.19 609.88,309.82 610.35,310.42 610.83,310.98 611.31,311.51 611.79,311.99 612.27,312.43 612.75,312.84 613.22,313.2 613.7,313.52 614.18,313.79 614.66,314.02 615.14,314.21 615.62,314.35 616.09,314.45 616.57,314.51 617.05,314.52 617.53,314.48 618.01,314.4 618.49,314.28 618.96,314.11 619.44,313.9 619.92,313.64 620.4,313.34 620.88,313 621.36,312.62 621.83,312.19 622.31,311.72 622.79,311.22 623.27,310.67 623.75,310.09 624.23,309.47 624.7,308.81 625.18,308.12 625.66,307.4 626.14,306.64 626.62,305.85 627.1,305.03 627.57,304.19 628.05,303.32 628.53,302.42 629.01,301.5 629.49,300.56 629.96,299.59 630.44,298.61 630.92,297.61 631.4,296.6" fill="none" stroke="#0000ff" stroke-width="1.3" stroke-dasharray="4.6,1.1,2.4,1.1" stroke-linejoin="round"/>
</g>
<line x1="487.9" y1="253.8" x2="487.9" y2="324.2" stroke="#444" stroke-width="1.0"/>
<line x1="487.9" y1="324.2" x2="631.4" y2="324.2" stroke="#444" stroke-width="1.0"/>
<line x1="631.4" y1="253.8" x2="631.4" y2="324.2" stroke="#0000ff" stroke-width="1.0"/>
<line x1="487.9" y1="253.8" x2="489.5" y2="253.8" stroke="#444" stroke-width="1.0"/>
<text transform="translate(484.4,257.41) scale(1,1.1)" font-size="8" text-anchor="end">1500</text>
<line x1="487.9" y1="271.4" x2="489.5" y2="271.4" stroke="#444" stroke-width="1.0"/>
<text transform="translate(484.4,275.01) scale(1,1.1)" font-size="8" text-anchor="end">750</text>
<line x1="487.9" y1="289" x2="489.5" y2="289" stroke="#444" stroke-width="1.0"/>
<text transform="translate(484.4,292.61) scale(1,1.1)" font-size="8" text-anchor="end">0</text>
<line x1="487.9" y1="306.6" x2="489.5" y2="306.6" stroke="#444" stroke-width="1.0"/>
<text transform="translate(484.4,310.21) scale(1,1.1)" font-size="8" text-anchor="end">-750</text>
<line x1="487.9" y1="324.2" x2="489.5" y2="324.2" stroke="#444" stroke-width="1.0"/>
<text transform="translate(484.4,327.81) scale(1,1.1)" font-size="8" text-anchor="end">-1500</text>
<line x1="631.4" y1="253.8" x2="629.8" y2="253.8" stroke="#0000ff" stroke-width="1.0"/>
<text transform="translate(634.6,257.61) scale(1,1.1)" font-size="8" fill="#0000ff">2</text>
<line x1="631.4" y1="271.4" x2="629.8" y2="271.4" stroke="#0000ff" stroke-width="1.0"/>
<text transform="translate(634.6,275.21) scale(1,1.1)" font-size="8" fill="#0000ff">1</text>
<line x1="631.4" y1="289" x2="629.8" y2="289" stroke="#0000ff" stroke-width="1.0"/>
<text transform="translate(634.6,292.81) scale(1,1.1)" font-size="8" fill="#0000ff">0</text>
<line x1="631.4" y1="306.6" x2="629.8" y2="306.6" stroke="#0000ff" stroke-width="1.0"/>
<text transform="translate(634.6,310.41) scale(1,1.1)" font-size="8" fill="#0000ff">-1</text>
<line x1="631.4" y1="324.2" x2="629.8" y2="324.2" stroke="#0000ff" stroke-width="1.0"/>
<text transform="translate(634.6,328.01) scale(1,1.1)" font-size="8" fill="#0000ff">-2</text>
<line x1="487.9" y1="324.2" x2="487.9" y2="322.6" stroke="#444" stroke-width="1.0"/>
<text transform="translate(487.9,336.4) scale(1,1.1)" font-size="8" text-anchor="middle">0</text>
<line x1="534.4" y1="324.2" x2="534.4" y2="322.6" stroke="#444" stroke-width="1.0"/>
<text transform="translate(534.4,336.4) scale(1,1.1)" font-size="8" text-anchor="middle">0.01</text>
<line x1="580.9" y1="324.2" x2="580.9" y2="322.6" stroke="#444" stroke-width="1.0"/>
<text transform="translate(580.9,336.4) scale(1,1.1)" font-size="8" text-anchor="middle">0.02</text>
<line x1="627.4" y1="324.2" x2="627.4" y2="322.6" stroke="#444" stroke-width="1.0"/>
<text transform="translate(627.4,336.4) scale(1,1.1)" font-size="8" text-anchor="middle">0.03</text>
<text x="559.9" y="343.9" font-size="8.8" text-anchor="middle">Time (s)</text>
<text transform="translate(464.5,288.4) rotate(-90)" text-anchor="middle" font-size="9.3">a<tspan font-size="70%" dy="3.5">f</tspan><tspan dy="-3.5"> (m/s</tspan><tspan font-size="70%" dy="-3.8">2</tspan><tspan dy="3.8">)</tspan></text>
<text transform="translate(655,288.8) rotate(-90)" text-anchor="middle" font-size="9.3" fill="#0000ff">a<tspan font-size="70%" dy="3.5">r</tspan><tspan dy="-3.5"> (rad/s</tspan><tspan font-size="70%" dy="-3.8">2</tspan><tspan dy="3.8">)</tspan></text>
<text x="612.9" y="251.3" font-size="8.5" fill="#0000ff" style="stroke-width:0">×</text>
<text transform="translate(618.1,251.6) scale(1,1.15)" font-size="8" fill="#0000ff">10</text>
<text transform="translate(627.8,248.2) scale(1,1.1)" font-size="6.2" fill="#0000ff">5</text>
<line x1="523.1" y1="260.5" x2="549.3" y2="260.5" stroke="#000" stroke-width="1.2" stroke-dasharray="4.8,1,2.6,1.2"/>
<text x="551.6" y="262.4" font-size="7.3">#4 a<tspan font-size="72%" dy="2.4">f</tspan></text>
<line x1="523.1" y1="273.1" x2="549.3" y2="273.1" stroke="#0000ff" stroke-width="1.2" stroke-dasharray="4.8,1,2.6,1.2"/>
<text x="551.6" y="274.6" font-size="7.3">#4 a<tspan font-size="72%" dy="2.4">r</tspan></text>
<text x="440.1" y="239" style="font-family:&quot;Liberation Serif&quot;, serif" font-size="11.5" font-weight="bold">(i)</text>
</svg></body></html>
